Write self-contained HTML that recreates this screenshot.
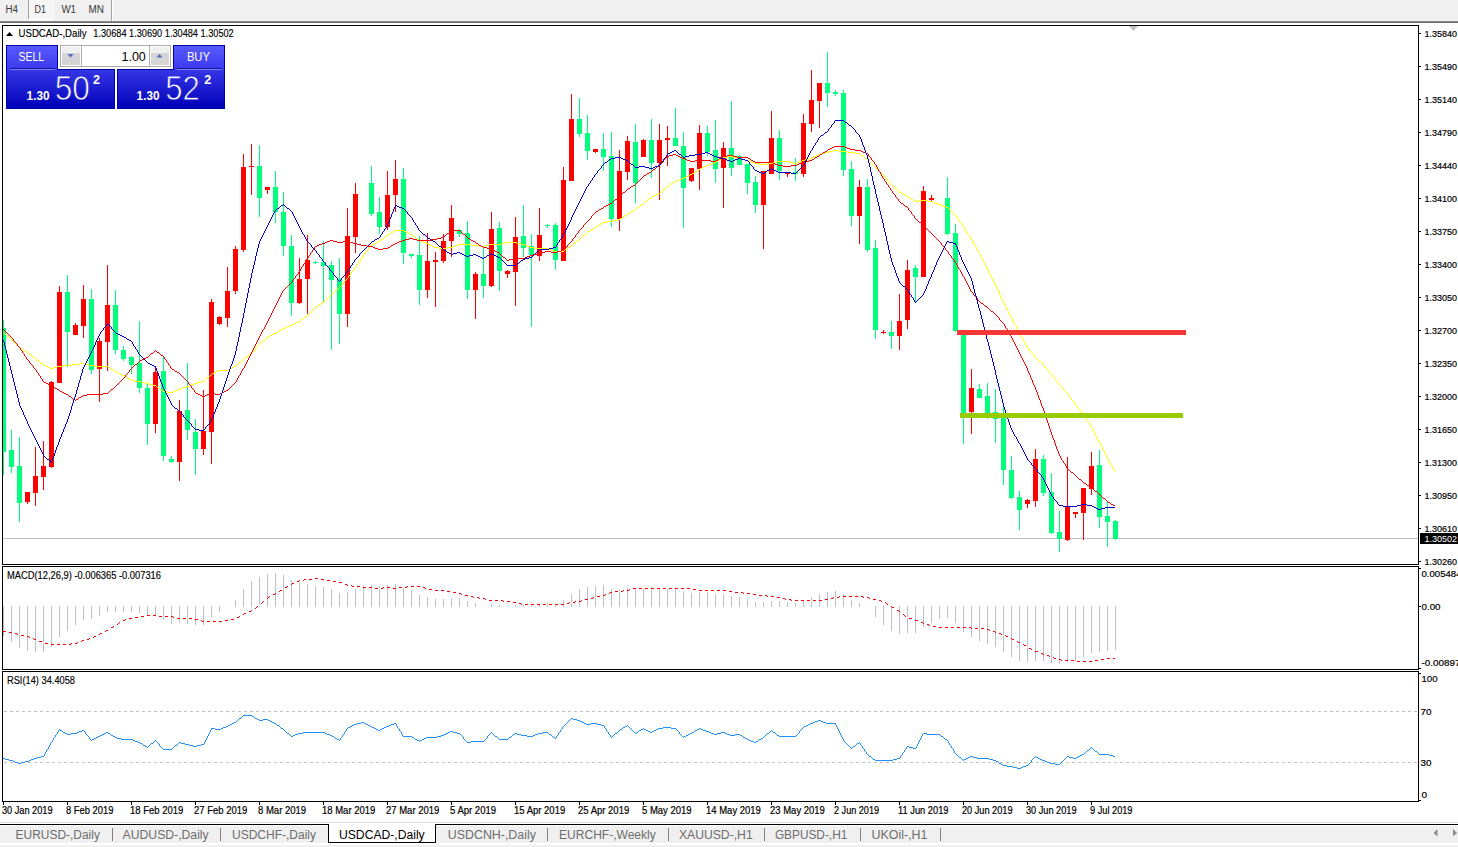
<!DOCTYPE html><html><head><meta charset="utf-8"><style>html,body{margin:0;padding:0;background:#fff;overflow:hidden}</style></head><body><svg width="1458" height="847" viewBox="0 0 1458 847" style="display:block" font-family='"Liberation Sans", sans-serif'>
<defs><pattern id="chk" width="2" height="2" patternUnits="userSpaceOnUse"><rect width="2" height="2" fill="#f0f0f0"/><rect width="1" height="1" fill="#fcfcfc"/><rect x="1" y="1" width="1" height="1" fill="#fcfcfc"/></pattern><clipPath id="mainclip"><rect x="3" y="26" width="1415" height="538"/></clipPath><clipPath id="macdclip"><rect x="3" y="567" width="1415" height="102"/></clipPath><clipPath id="rsiclip"><rect x="3" y="672" width="1415" height="129"/></clipPath></defs>
<rect x="0" y="0" width="1458" height="847" fill="#ffffff"/>
<g shape-rendering="crispEdges">
<rect x="0" y="0" width="1458" height="21" fill="#f0f0f0"/>
<rect x="29" y="0" width="24" height="19" fill="url(#chk)"/>
<rect x="53" y="0" width="1" height="20" fill="#ffffff"/>
<rect x="29" y="19" width="25" height="1" fill="#ffffff"/>
<rect x="28" y="0" width="1" height="19" fill="#a0a0a0"/>
<rect x="111" y="0" width="1" height="21" fill="#a0a0a0"/>
<rect x="112" y="0" width="1" height="21" fill="#ffffff"/>
<rect x="0" y="21" width="1458" height="1" fill="#8e8e8e"/>
<rect x="0" y="22" width="1458" height="1" fill="#6c6c6c"/>
</g>
<text x="5.5" y="13" font-size="10" fill="#383838" font-weight="normal" text-anchor="start" textLength="12.5" lengthAdjust="spacingAndGlyphs">H4</text>
<text x="34.5" y="13" font-size="10" fill="#383838" font-weight="normal" text-anchor="start" textLength="11.5" lengthAdjust="spacingAndGlyphs">D1</text>
<text x="61.5" y="13" font-size="10" fill="#383838" font-weight="normal" text-anchor="start" textLength="14.5" lengthAdjust="spacingAndGlyphs">W1</text>
<text x="88.5" y="13" font-size="10" fill="#383838" font-weight="normal" text-anchor="start" textLength="15.5" lengthAdjust="spacingAndGlyphs">MN</text>
<g shape-rendering="crispEdges" fill="none" stroke="#000" stroke-width="1">
<rect x="2.5" y="25.5" width="1416" height="539"/>
<rect x="2.5" y="566.5" width="1416" height="103"/>
<rect x="2.5" y="671.5" width="1416" height="130"/>
</g>
<g shape-rendering="crispEdges" fill="#000">
<rect x="1419" y="33" width="2" height="1"/>
<rect x="1419" y="66" width="2" height="1"/>
<rect x="1419" y="99" width="2" height="1"/>
<rect x="1419" y="132" width="2" height="1"/>
<rect x="1419" y="165" width="2" height="1"/>
<rect x="1419" y="198" width="2" height="1"/>
<rect x="1419" y="231" width="2" height="1"/>
<rect x="1419" y="264" width="2" height="1"/>
<rect x="1419" y="297" width="2" height="1"/>
<rect x="1419" y="330" width="2" height="1"/>
<rect x="1419" y="363" width="2" height="1"/>
<rect x="1419" y="396" width="2" height="1"/>
<rect x="1419" y="429" width="2" height="1"/>
<rect x="1419" y="462" width="2" height="1"/>
<rect x="1419" y="495" width="2" height="1"/>
<rect x="1419" y="528" width="2" height="1"/>
<rect x="1419" y="561" width="2" height="1"/>
</g>
<text x="1424.5" y="37" font-size="9.5" fill="#000" font-weight="normal" text-anchor="start" textLength="32.5" lengthAdjust="spacingAndGlyphs" stroke="#000" stroke-width="0.2">1.35840</text>
<text x="1424.5" y="70" font-size="9.5" fill="#000" font-weight="normal" text-anchor="start" textLength="32.5" lengthAdjust="spacingAndGlyphs" stroke="#000" stroke-width="0.2">1.35490</text>
<text x="1424.5" y="103" font-size="9.5" fill="#000" font-weight="normal" text-anchor="start" textLength="32.5" lengthAdjust="spacingAndGlyphs" stroke="#000" stroke-width="0.2">1.35140</text>
<text x="1424.5" y="136" font-size="9.5" fill="#000" font-weight="normal" text-anchor="start" textLength="32.5" lengthAdjust="spacingAndGlyphs" stroke="#000" stroke-width="0.2">1.34790</text>
<text x="1424.5" y="169" font-size="9.5" fill="#000" font-weight="normal" text-anchor="start" textLength="32.5" lengthAdjust="spacingAndGlyphs" stroke="#000" stroke-width="0.2">1.34440</text>
<text x="1424.5" y="202" font-size="9.5" fill="#000" font-weight="normal" text-anchor="start" textLength="32.5" lengthAdjust="spacingAndGlyphs" stroke="#000" stroke-width="0.2">1.34100</text>
<text x="1424.5" y="235" font-size="9.5" fill="#000" font-weight="normal" text-anchor="start" textLength="32.5" lengthAdjust="spacingAndGlyphs" stroke="#000" stroke-width="0.2">1.33750</text>
<text x="1424.5" y="268" font-size="9.5" fill="#000" font-weight="normal" text-anchor="start" textLength="32.5" lengthAdjust="spacingAndGlyphs" stroke="#000" stroke-width="0.2">1.33400</text>
<text x="1424.5" y="301" font-size="9.5" fill="#000" font-weight="normal" text-anchor="start" textLength="32.5" lengthAdjust="spacingAndGlyphs" stroke="#000" stroke-width="0.2">1.33050</text>
<text x="1424.5" y="334" font-size="9.5" fill="#000" font-weight="normal" text-anchor="start" textLength="32.5" lengthAdjust="spacingAndGlyphs" stroke="#000" stroke-width="0.2">1.32700</text>
<text x="1424.5" y="367" font-size="9.5" fill="#000" font-weight="normal" text-anchor="start" textLength="32.5" lengthAdjust="spacingAndGlyphs" stroke="#000" stroke-width="0.2">1.32350</text>
<text x="1424.5" y="400" font-size="9.5" fill="#000" font-weight="normal" text-anchor="start" textLength="32.5" lengthAdjust="spacingAndGlyphs" stroke="#000" stroke-width="0.2">1.32000</text>
<text x="1424.5" y="433" font-size="9.5" fill="#000" font-weight="normal" text-anchor="start" textLength="32.5" lengthAdjust="spacingAndGlyphs" stroke="#000" stroke-width="0.2">1.31650</text>
<text x="1424.5" y="466" font-size="9.5" fill="#000" font-weight="normal" text-anchor="start" textLength="32.5" lengthAdjust="spacingAndGlyphs" stroke="#000" stroke-width="0.2">1.31300</text>
<text x="1424.5" y="499" font-size="9.5" fill="#000" font-weight="normal" text-anchor="start" textLength="32.5" lengthAdjust="spacingAndGlyphs" stroke="#000" stroke-width="0.2">1.30950</text>
<text x="1424.5" y="532" font-size="9.5" fill="#000" font-weight="normal" text-anchor="start" textLength="32.5" lengthAdjust="spacingAndGlyphs" stroke="#000" stroke-width="0.2">1.30610</text>
<text x="1424.5" y="565" font-size="9.5" fill="#000" font-weight="normal" text-anchor="start" textLength="32.5" lengthAdjust="spacingAndGlyphs" stroke="#000" stroke-width="0.2">1.30260</text>
<g shape-rendering="crispEdges" fill="#000">
<rect x="3" y="802" width="1" height="3"/>
<rect x="67" y="802" width="1" height="3"/>
<rect x="131" y="802" width="1" height="3"/>
<rect x="195" y="802" width="1" height="3"/>
<rect x="259" y="802" width="1" height="3"/>
<rect x="323" y="802" width="1" height="3"/>
<rect x="387" y="802" width="1" height="3"/>
<rect x="451" y="802" width="1" height="3"/>
<rect x="515" y="802" width="1" height="3"/>
<rect x="579" y="802" width="1" height="3"/>
<rect x="643" y="802" width="1" height="3"/>
<rect x="707" y="802" width="1" height="3"/>
<rect x="771" y="802" width="1" height="3"/>
<rect x="835" y="802" width="1" height="3"/>
<rect x="899" y="802" width="1" height="3"/>
<rect x="963" y="802" width="1" height="3"/>
<rect x="1027" y="802" width="1" height="3"/>
<rect x="1091" y="802" width="1" height="3"/>
</g>
<g clip-path="url(#mainclip)">
<rect x="3" y="538" width="1415" height="1" fill="#c0c0c0" shape-rendering="crispEdges"/>
<g shape-rendering="crispEdges">
<rect x="3" y="320" width="1" height="155" fill="#00ff7f"/>
<rect x="1" y="328" width="5" height="124" fill="#00ff7f"/>
<rect x="11" y="430" width="1" height="43" fill="#00ff7f"/>
<rect x="9" y="450" width="5" height="17" fill="#00ff7f"/>
<rect x="19" y="437" width="1" height="85" fill="#00ff7f"/>
<rect x="17" y="466" width="5" height="37" fill="#00ff7f"/>
<rect x="27" y="492" width="1" height="12" fill="#ff0000"/>
<rect x="25" y="492" width="5" height="10" fill="#ff0000"/>
<rect x="35" y="447" width="1" height="59" fill="#ff0000"/>
<rect x="33" y="476" width="5" height="17" fill="#ff0000"/>
<rect x="43" y="441" width="1" height="49" fill="#ff0000"/>
<rect x="41" y="466" width="5" height="11" fill="#ff0000"/>
<rect x="51" y="381" width="1" height="87" fill="#ff0000"/>
<rect x="49" y="382" width="5" height="85" fill="#ff0000"/>
<rect x="59" y="286" width="1" height="97" fill="#ff0000"/>
<rect x="57" y="292" width="5" height="91" fill="#ff0000"/>
<rect x="67" y="275" width="1" height="92" fill="#00ff7f"/>
<rect x="65" y="292" width="5" height="40" fill="#00ff7f"/>
<rect x="75" y="323" width="1" height="12" fill="#ff0000"/>
<rect x="73" y="325" width="5" height="10" fill="#ff0000"/>
<rect x="83" y="285" width="1" height="53" fill="#ff0000"/>
<rect x="81" y="299" width="5" height="27" fill="#ff0000"/>
<rect x="91" y="289" width="1" height="85" fill="#00ff7f"/>
<rect x="89" y="299" width="5" height="71" fill="#00ff7f"/>
<rect x="99" y="338" width="1" height="64" fill="#ff0000"/>
<rect x="97" y="341" width="5" height="28" fill="#ff0000"/>
<rect x="107" y="265" width="1" height="106" fill="#ff0000"/>
<rect x="105" y="305" width="5" height="37" fill="#ff0000"/>
<rect x="115" y="290" width="1" height="64" fill="#00ff7f"/>
<rect x="113" y="305" width="5" height="45" fill="#00ff7f"/>
<rect x="123" y="346" width="1" height="15" fill="#00ff7f"/>
<rect x="121" y="350" width="5" height="9" fill="#00ff7f"/>
<rect x="131" y="356" width="1" height="18" fill="#00ff7f"/>
<rect x="129" y="357" width="5" height="8" fill="#00ff7f"/>
<rect x="139" y="321" width="1" height="72" fill="#00ff7f"/>
<rect x="137" y="363" width="5" height="25" fill="#00ff7f"/>
<rect x="147" y="383" width="1" height="62" fill="#00ff7f"/>
<rect x="145" y="388" width="5" height="36" fill="#00ff7f"/>
<rect x="155" y="366" width="1" height="67" fill="#ff0000"/>
<rect x="153" y="372" width="5" height="52" fill="#ff0000"/>
<rect x="163" y="357" width="1" height="104" fill="#00ff7f"/>
<rect x="161" y="371" width="5" height="85" fill="#00ff7f"/>
<rect x="171" y="456" width="1" height="7" fill="#00ff7f"/>
<rect x="169" y="459" width="5" height="3" fill="#00ff7f"/>
<rect x="179" y="400" width="1" height="81" fill="#ff0000"/>
<rect x="177" y="411" width="5" height="51" fill="#ff0000"/>
<rect x="187" y="363" width="1" height="77" fill="#00ff7f"/>
<rect x="185" y="410" width="5" height="20" fill="#00ff7f"/>
<rect x="195" y="419" width="1" height="56" fill="#00ff7f"/>
<rect x="193" y="432" width="5" height="17" fill="#00ff7f"/>
<rect x="203" y="390" width="1" height="65" fill="#ff0000"/>
<rect x="201" y="431" width="5" height="18" fill="#ff0000"/>
<rect x="211" y="299" width="1" height="165" fill="#ff0000"/>
<rect x="209" y="302" width="5" height="130" fill="#ff0000"/>
<rect x="219" y="316" width="1" height="9" fill="#ff0000"/>
<rect x="217" y="317" width="5" height="7" fill="#ff0000"/>
<rect x="227" y="267" width="1" height="60" fill="#ff0000"/>
<rect x="225" y="291" width="5" height="27" fill="#ff0000"/>
<rect x="235" y="246" width="1" height="48" fill="#ff0000"/>
<rect x="233" y="249" width="5" height="42" fill="#ff0000"/>
<rect x="243" y="154" width="1" height="98" fill="#ff0000"/>
<rect x="241" y="167" width="5" height="83" fill="#ff0000"/>
<rect x="251" y="144" width="1" height="51" fill="#ff0000"/>
<rect x="249" y="166" width="5" height="1" fill="#ff0000"/>
<rect x="259" y="145" width="1" height="72" fill="#00ff7f"/>
<rect x="257" y="166" width="5" height="32" fill="#00ff7f"/>
<rect x="267" y="187" width="1" height="7" fill="#ff0000"/>
<rect x="265" y="187" width="5" height="3" fill="#ff0000"/>
<rect x="275" y="171" width="1" height="52" fill="#00ff7f"/>
<rect x="273" y="187" width="5" height="25" fill="#00ff7f"/>
<rect x="283" y="192" width="1" height="64" fill="#00ff7f"/>
<rect x="281" y="212" width="5" height="34" fill="#00ff7f"/>
<rect x="291" y="235" width="1" height="81" fill="#00ff7f"/>
<rect x="289" y="246" width="5" height="57" fill="#00ff7f"/>
<rect x="299" y="258" width="1" height="46" fill="#ff0000"/>
<rect x="297" y="279" width="5" height="24" fill="#ff0000"/>
<rect x="307" y="235" width="1" height="79" fill="#ff0000"/>
<rect x="305" y="260" width="5" height="19" fill="#ff0000"/>
<rect x="315" y="261" width="1" height="3" fill="#00ff7f"/>
<rect x="313" y="262" width="5" height="1" fill="#00ff7f"/>
<rect x="323" y="241" width="1" height="61" fill="#00ff7f"/>
<rect x="321" y="262" width="5" height="4" fill="#00ff7f"/>
<rect x="331" y="261" width="1" height="89" fill="#00ff7f"/>
<rect x="329" y="265" width="5" height="15" fill="#00ff7f"/>
<rect x="339" y="258" width="1" height="86" fill="#00ff7f"/>
<rect x="337" y="279" width="5" height="35" fill="#00ff7f"/>
<rect x="347" y="208" width="1" height="119" fill="#ff0000"/>
<rect x="345" y="236" width="5" height="78" fill="#ff0000"/>
<rect x="355" y="183" width="1" height="70" fill="#ff0000"/>
<rect x="353" y="194" width="5" height="43" fill="#ff0000"/>
<rect x="371" y="166" width="1" height="50" fill="#00ff7f"/>
<rect x="369" y="183" width="5" height="31" fill="#00ff7f"/>
<rect x="379" y="197" width="1" height="37" fill="#00ff7f"/>
<rect x="377" y="212" width="5" height="15" fill="#00ff7f"/>
<rect x="387" y="171" width="1" height="59" fill="#ff0000"/>
<rect x="385" y="195" width="5" height="32" fill="#ff0000"/>
<rect x="395" y="160" width="1" height="52" fill="#ff0000"/>
<rect x="393" y="179" width="5" height="16" fill="#ff0000"/>
<rect x="403" y="168" width="1" height="96" fill="#00ff7f"/>
<rect x="401" y="179" width="5" height="74" fill="#00ff7f"/>
<rect x="411" y="254" width="1" height="4" fill="#00ff7f"/>
<rect x="409" y="254" width="5" height="2" fill="#00ff7f"/>
<rect x="419" y="236" width="1" height="69" fill="#00ff7f"/>
<rect x="417" y="255" width="5" height="35" fill="#00ff7f"/>
<rect x="427" y="233" width="1" height="65" fill="#ff0000"/>
<rect x="425" y="261" width="5" height="29" fill="#ff0000"/>
<rect x="435" y="252" width="1" height="55" fill="#ff0000"/>
<rect x="433" y="260" width="5" height="2" fill="#ff0000"/>
<rect x="443" y="234" width="1" height="29" fill="#ff0000"/>
<rect x="441" y="241" width="5" height="20" fill="#ff0000"/>
<rect x="451" y="205" width="1" height="52" fill="#ff0000"/>
<rect x="449" y="218" width="5" height="23" fill="#ff0000"/>
<rect x="459" y="229" width="1" height="8" fill="#00ff7f"/>
<rect x="457" y="230" width="5" height="4" fill="#00ff7f"/>
<rect x="467" y="221" width="1" height="78" fill="#00ff7f"/>
<rect x="465" y="233" width="5" height="57" fill="#00ff7f"/>
<rect x="475" y="272" width="1" height="47" fill="#ff0000"/>
<rect x="473" y="274" width="5" height="16" fill="#ff0000"/>
<rect x="483" y="247" width="1" height="51" fill="#00ff7f"/>
<rect x="481" y="274" width="5" height="12" fill="#00ff7f"/>
<rect x="491" y="212" width="1" height="75" fill="#ff0000"/>
<rect x="489" y="229" width="5" height="57" fill="#ff0000"/>
<rect x="499" y="222" width="1" height="69" fill="#00ff7f"/>
<rect x="497" y="228" width="5" height="43" fill="#00ff7f"/>
<rect x="507" y="270" width="1" height="8" fill="#ff0000"/>
<rect x="505" y="271" width="5" height="3" fill="#ff0000"/>
<rect x="515" y="217" width="1" height="89" fill="#ff0000"/>
<rect x="513" y="237" width="5" height="35" fill="#ff0000"/>
<rect x="523" y="205" width="1" height="52" fill="#00ff7f"/>
<rect x="521" y="236" width="5" height="12" fill="#00ff7f"/>
<rect x="531" y="234" width="1" height="93" fill="#00ff7f"/>
<rect x="529" y="246" width="5" height="9" fill="#00ff7f"/>
<rect x="539" y="208" width="1" height="53" fill="#ff0000"/>
<rect x="537" y="235" width="5" height="21" fill="#ff0000"/>
<rect x="547" y="224" width="1" height="4" fill="#00ff7f"/>
<rect x="545" y="225" width="5" height="1" fill="#00ff7f"/>
<rect x="555" y="223" width="1" height="47" fill="#00ff7f"/>
<rect x="553" y="225" width="5" height="35" fill="#00ff7f"/>
<rect x="563" y="167" width="1" height="94" fill="#ff0000"/>
<rect x="561" y="180" width="5" height="81" fill="#ff0000"/>
<rect x="571" y="94" width="1" height="87" fill="#ff0000"/>
<rect x="569" y="119" width="5" height="62" fill="#ff0000"/>
<rect x="579" y="98" width="1" height="39" fill="#00ff7f"/>
<rect x="577" y="119" width="5" height="15" fill="#00ff7f"/>
<rect x="587" y="115" width="1" height="45" fill="#00ff7f"/>
<rect x="585" y="133" width="5" height="18" fill="#00ff7f"/>
<rect x="595" y="149" width="1" height="4" fill="#ff0000"/>
<rect x="593" y="149" width="5" height="3" fill="#ff0000"/>
<rect x="603" y="133" width="1" height="38" fill="#00ff7f"/>
<rect x="601" y="149" width="5" height="8" fill="#00ff7f"/>
<rect x="611" y="132" width="1" height="95" fill="#00ff7f"/>
<rect x="609" y="156" width="5" height="63" fill="#00ff7f"/>
<rect x="619" y="150" width="1" height="81" fill="#ff0000"/>
<rect x="617" y="171" width="5" height="48" fill="#ff0000"/>
<rect x="627" y="136" width="1" height="44" fill="#ff0000"/>
<rect x="625" y="141" width="5" height="31" fill="#ff0000"/>
<rect x="635" y="124" width="1" height="79" fill="#00ff7f"/>
<rect x="633" y="142" width="5" height="41" fill="#00ff7f"/>
<rect x="643" y="139" width="1" height="18" fill="#ff0000"/>
<rect x="641" y="140" width="5" height="17" fill="#ff0000"/>
<rect x="651" y="119" width="1" height="59" fill="#00ff7f"/>
<rect x="649" y="140" width="5" height="23" fill="#00ff7f"/>
<rect x="659" y="124" width="1" height="76" fill="#ff0000"/>
<rect x="657" y="140" width="5" height="23" fill="#ff0000"/>
<rect x="667" y="126" width="1" height="40" fill="#ff0000"/>
<rect x="665" y="138" width="5" height="2" fill="#ff0000"/>
<rect x="675" y="108" width="1" height="38" fill="#00ff7f"/>
<rect x="673" y="138" width="5" height="8" fill="#00ff7f"/>
<rect x="683" y="132" width="1" height="96" fill="#00ff7f"/>
<rect x="681" y="146" width="5" height="42" fill="#00ff7f"/>
<rect x="691" y="168" width="1" height="14" fill="#ff0000"/>
<rect x="689" y="168" width="5" height="13" fill="#ff0000"/>
<rect x="699" y="125" width="1" height="65" fill="#ff0000"/>
<rect x="697" y="133" width="5" height="36" fill="#ff0000"/>
<rect x="707" y="126" width="1" height="30" fill="#00ff7f"/>
<rect x="705" y="133" width="5" height="19" fill="#00ff7f"/>
<rect x="715" y="120" width="1" height="63" fill="#00ff7f"/>
<rect x="713" y="150" width="5" height="19" fill="#00ff7f"/>
<rect x="723" y="142" width="1" height="66" fill="#ff0000"/>
<rect x="721" y="148" width="5" height="20" fill="#ff0000"/>
<rect x="731" y="101" width="1" height="75" fill="#00ff7f"/>
<rect x="729" y="148" width="5" height="20" fill="#00ff7f"/>
<rect x="739" y="155" width="1" height="10" fill="#00ff7f"/>
<rect x="737" y="156" width="5" height="9" fill="#00ff7f"/>
<rect x="747" y="164" width="1" height="30" fill="#00ff7f"/>
<rect x="745" y="164" width="5" height="19" fill="#00ff7f"/>
<rect x="755" y="176" width="1" height="37" fill="#00ff7f"/>
<rect x="753" y="182" width="5" height="23" fill="#00ff7f"/>
<rect x="763" y="171" width="1" height="78" fill="#ff0000"/>
<rect x="761" y="171" width="5" height="34" fill="#ff0000"/>
<rect x="771" y="111" width="1" height="63" fill="#ff0000"/>
<rect x="769" y="138" width="5" height="36" fill="#ff0000"/>
<rect x="779" y="130" width="1" height="50" fill="#00ff7f"/>
<rect x="777" y="138" width="5" height="33" fill="#00ff7f"/>
<rect x="787" y="172" width="1" height="5" fill="#ff0000"/>
<rect x="785" y="172" width="5" height="2" fill="#ff0000"/>
<rect x="795" y="158" width="1" height="23" fill="#00ff7f"/>
<rect x="793" y="172" width="5" height="2" fill="#00ff7f"/>
<rect x="803" y="114" width="1" height="63" fill="#ff0000"/>
<rect x="801" y="123" width="5" height="51" fill="#ff0000"/>
<rect x="811" y="70" width="1" height="62" fill="#ff0000"/>
<rect x="809" y="100" width="5" height="24" fill="#ff0000"/>
<rect x="819" y="83" width="1" height="45" fill="#ff0000"/>
<rect x="817" y="83" width="5" height="18" fill="#ff0000"/>
<rect x="827" y="52" width="1" height="55" fill="#00ff7f"/>
<rect x="825" y="83" width="5" height="10" fill="#00ff7f"/>
<rect x="835" y="90" width="1" height="6" fill="#00ff7f"/>
<rect x="833" y="92" width="5" height="2" fill="#00ff7f"/>
<rect x="843" y="90" width="1" height="86" fill="#00ff7f"/>
<rect x="841" y="93" width="5" height="77" fill="#00ff7f"/>
<rect x="851" y="161" width="1" height="65" fill="#00ff7f"/>
<rect x="849" y="169" width="5" height="47" fill="#00ff7f"/>
<rect x="859" y="180" width="1" height="64" fill="#ff0000"/>
<rect x="857" y="187" width="5" height="29" fill="#ff0000"/>
<rect x="867" y="179" width="1" height="73" fill="#00ff7f"/>
<rect x="865" y="187" width="5" height="63" fill="#00ff7f"/>
<rect x="875" y="240" width="1" height="99" fill="#00ff7f"/>
<rect x="873" y="248" width="5" height="82" fill="#00ff7f"/>
<rect x="883" y="330" width="1" height="4" fill="#ff0000"/>
<rect x="881" y="332" width="5" height="1" fill="#ff0000"/>
<rect x="891" y="321" width="1" height="28" fill="#00ff7f"/>
<rect x="889" y="332" width="5" height="4" fill="#00ff7f"/>
<rect x="899" y="294" width="1" height="56" fill="#ff0000"/>
<rect x="897" y="321" width="5" height="15" fill="#ff0000"/>
<rect x="907" y="260" width="1" height="69" fill="#ff0000"/>
<rect x="905" y="270" width="5" height="50" fill="#ff0000"/>
<rect x="915" y="265" width="1" height="37" fill="#00ff7f"/>
<rect x="913" y="268" width="5" height="9" fill="#00ff7f"/>
<rect x="923" y="186" width="1" height="91" fill="#ff0000"/>
<rect x="921" y="191" width="5" height="86" fill="#ff0000"/>
<rect x="931" y="195" width="1" height="6" fill="#ff0000"/>
<rect x="929" y="198" width="5" height="2" fill="#ff0000"/>
<rect x="947" y="177" width="1" height="58" fill="#00ff7f"/>
<rect x="945" y="198" width="5" height="36" fill="#00ff7f"/>
<rect x="955" y="224" width="1" height="108" fill="#00ff7f"/>
<rect x="953" y="233" width="5" height="98" fill="#00ff7f"/>
<rect x="963" y="331" width="1" height="113" fill="#00ff7f"/>
<rect x="961" y="331" width="5" height="82" fill="#00ff7f"/>
<rect x="971" y="369" width="1" height="65" fill="#ff0000"/>
<rect x="969" y="388" width="5" height="24" fill="#ff0000"/>
<rect x="979" y="384" width="1" height="14" fill="#00ff7f"/>
<rect x="977" y="389" width="5" height="9" fill="#00ff7f"/>
<rect x="987" y="383" width="1" height="36" fill="#00ff7f"/>
<rect x="985" y="396" width="5" height="22" fill="#00ff7f"/>
<rect x="995" y="389" width="1" height="54" fill="#00ff7f"/>
<rect x="993" y="412" width="5" height="7" fill="#00ff7f"/>
<rect x="1003" y="406" width="1" height="79" fill="#00ff7f"/>
<rect x="1001" y="417" width="5" height="53" fill="#00ff7f"/>
<rect x="1011" y="456" width="1" height="43" fill="#00ff7f"/>
<rect x="1009" y="470" width="5" height="28" fill="#00ff7f"/>
<rect x="1019" y="491" width="1" height="39" fill="#00ff7f"/>
<rect x="1017" y="497" width="5" height="13" fill="#00ff7f"/>
<rect x="1027" y="499" width="1" height="9" fill="#ff0000"/>
<rect x="1025" y="500" width="5" height="4" fill="#ff0000"/>
<rect x="1035" y="449" width="1" height="58" fill="#ff0000"/>
<rect x="1033" y="459" width="5" height="42" fill="#ff0000"/>
<rect x="1043" y="455" width="1" height="41" fill="#00ff7f"/>
<rect x="1041" y="459" width="5" height="34" fill="#00ff7f"/>
<rect x="1051" y="473" width="1" height="61" fill="#00ff7f"/>
<rect x="1049" y="492" width="5" height="41" fill="#00ff7f"/>
<rect x="1059" y="511" width="1" height="41" fill="#00ff7f"/>
<rect x="1057" y="532" width="5" height="7" fill="#00ff7f"/>
<rect x="1067" y="457" width="1" height="84" fill="#ff0000"/>
<rect x="1065" y="507" width="5" height="33" fill="#ff0000"/>
<rect x="1075" y="512" width="1" height="6" fill="#ff0000"/>
<rect x="1073" y="512" width="5" height="2" fill="#ff0000"/>
<rect x="1083" y="488" width="1" height="52" fill="#ff0000"/>
<rect x="1081" y="488" width="5" height="25" fill="#ff0000"/>
<rect x="1091" y="452" width="1" height="43" fill="#ff0000"/>
<rect x="1089" y="466" width="5" height="23" fill="#ff0000"/>
<rect x="1099" y="450" width="1" height="78" fill="#00ff7f"/>
<rect x="1097" y="465" width="5" height="52" fill="#00ff7f"/>
<rect x="1107" y="501" width="1" height="46" fill="#00ff7f"/>
<rect x="1105" y="516" width="5" height="6" fill="#00ff7f"/>
<rect x="1115" y="520" width="1" height="20" fill="#00ff7f"/>
<rect x="1113" y="521" width="5" height="18" fill="#00ff7f"/>
</g>
<path d="M833 150h6v1h-6zM829 151h4v1h-4zM839 151h8v1h-8zM825 152h4v1h-4zM847 152h8v1h-8zM821 153h4v1h-4zM855 153h5v1h-5zM818 154h3v1h-3zM860 154h1v1h-1zM816 155h2v1h-2zM861 155h2v1h-2zM727 156h6v1h-6zM814 156h2v1h-2zM863 156h1v1h-1zM723 157h4v1h-4zM733 157h4v1h-4zM812 157h2v1h-2zM864 157h1v1h-1zM721 158h2v1h-2zM737 158h4v1h-4zM809 158h3v1h-3zM865 158h2v1h-2zM719 159h2v1h-2zM741 159h4v1h-4zM805 159h4v1h-4zM867 159h1v1h-1zM718 160h1v1h-1zM745 160h4v1h-4zM802 160h3v1h-3zM868 160h1v1h-1zM716 161h2v1h-2zM749 161h2v1h-2zM777 161h12v1h-12zM799 161h3v1h-3zM869 161h1v1h-1zM714 162h2v1h-2zM751 162h3v1h-3zM773 162h4v1h-4zM789 162h4v1h-4zM797 162h2v1h-2zM870 162h1v1h-1zM711 163h3v1h-3zM754 163h5v1h-5zM767 163h6v1h-6zM793 163h4v1h-4zM871 163h1v1h-1zM709 164h2v1h-2zM759 164h8v1h-8zM872 164h1v1h-1zM706 165h3v1h-3zM873 165h1v1h-1zM704 166h2v1h-2zM874 166h1v1h-1zM702 167h2v1h-2zM875 167h1v1h-1zM700 168h2v1h-2zM876 168h1v1h-1zM699 169h1v1h-1zM877 169h1v1h-1zM697 170h2v1h-2zM878 170h1v1h-1zM695 171h2v1h-2zM879 171h1v1h-1zM694 172h1v1h-1zM880 172h1v1h-1zM692 173h2v1h-2zM881 173h1v1h-1zM690 174h2v1h-2zM882 174h1v1h-1zM688 175h2v1h-2zM883 175h1v1h-1zM686 176h2v1h-2zM884 176h1v1h-1zM684 177h2v1h-2zM885 177h1v1h-1zM682 178h2v1h-2zM886 178h1v1h-1zM679 179h3v1h-3zM887 179h1v1h-1zM677 180h2v1h-2zM887 180h1v1h-1zM675 181h2v1h-2zM888 181h1v1h-1zM673 182h2v1h-2zM889 182h1v1h-1zM671 183h2v1h-2zM890 183h1v1h-1zM670 184h1v1h-1zM891 184h1v1h-1zM668 185h2v1h-2zM892 185h1v1h-1zM667 186h1v1h-1zM893 186h1v1h-1zM666 187h1v1h-1zM894 187h1v1h-1zM665 188h1v1h-1zM895 188h2v1h-2zM663 189h2v1h-2zM897 189h1v1h-1zM662 190h1v1h-1zM898 190h1v1h-1zM661 191h1v1h-1zM899 191h1v1h-1zM660 192h1v1h-1zM900 192h2v1h-2zM658 193h2v1h-2zM902 193h1v1h-1zM656 194h2v1h-2zM903 194h2v1h-2zM654 195h2v1h-2zM905 195h2v1h-2zM652 196h2v1h-2zM907 196h1v1h-1zM651 197h1v1h-1zM908 197h2v1h-2zM649 198h2v1h-2zM910 198h1v1h-1zM648 199h1v1h-1zM911 199h2v1h-2zM647 200h1v1h-1zM913 200h2v1h-2zM919 200h8v1h-8zM645 201h2v1h-2zM915 201h4v1h-4zM927 201h6v1h-6zM644 202h1v1h-1zM933 202h2v1h-2zM643 203h1v1h-1zM935 203h3v1h-3zM641 204h2v1h-2zM938 204h3v1h-3zM640 205h1v1h-1zM941 205h2v1h-2zM639 206h1v1h-1zM943 206h3v1h-3zM637 207h2v1h-2zM946 207h2v1h-2zM636 208h1v1h-1zM948 208h1v1h-1zM635 209h1v1h-1zM949 209h1v1h-1zM633 210h2v1h-2zM950 210h1v1h-1zM631 211h2v1h-2zM951 211h1v1h-1zM630 212h1v1h-1zM952 212h1v1h-1zM628 213h2v1h-2zM953 213h1v1h-1zM627 214h1v1h-1zM954 214h1v1h-1zM625 215h2v1h-2zM955 215h1v1h-1zM623 216h2v1h-2zM956 216h1v1h-1zM622 217h1v1h-1zM956 217h1v1h-1zM620 218h2v1h-2zM957 218h1v1h-1zM617 219h3v1h-3zM958 219h1v1h-1zM613 220h4v1h-4zM959 220h1v1h-1zM607 221h6v1h-6zM959 221h1v1h-1zM603 222h4v1h-4zM960 222h1v1h-1zM601 223h2v1h-2zM961 223h1v1h-1zM599 224h2v1h-2zM962 224h1v1h-1zM598 225h1v1h-1zM962 225h1v1h-1zM596 226h2v1h-2zM963 226h1v1h-1zM595 227h1v1h-1zM964 227h1v1h-1zM593 228h2v1h-2zM964 228h1v1h-1zM591 229h2v1h-2zM965 229h1v1h-1zM395 230h9v1h-9zM590 230h1v1h-1zM965 230h1v1h-1zM393 231h2v1h-2zM404 231h2v1h-2zM588 231h2v1h-2zM966 231h1v1h-1zM391 232h2v1h-2zM406 232h2v1h-2zM587 232h1v1h-1zM967 232h1v1h-1zM390 233h1v1h-1zM408 233h2v1h-2zM586 233h1v1h-1zM967 233h1v1h-1zM388 234h2v1h-2zM410 234h2v1h-2zM585 234h1v1h-1zM968 234h1v1h-1zM387 235h1v1h-1zM412 235h1v1h-1zM583 235h2v1h-2zM969 235h1v1h-1zM385 236h2v1h-2zM413 236h2v1h-2zM582 236h1v1h-1zM969 236h1v1h-1zM384 237h1v1h-1zM415 237h1v1h-1zM581 237h1v1h-1zM970 237h1v1h-1zM383 238h1v1h-1zM416 238h1v1h-1zM580 238h1v1h-1zM970 238h1v1h-1zM381 239h2v1h-2zM417 239h2v1h-2zM579 239h1v1h-1zM971 239h1v1h-1zM380 240h1v1h-1zM419 240h2v1h-2zM577 240h2v1h-2zM972 240h1v1h-1zM378 241h2v1h-2zM421 241h2v1h-2zM576 241h1v1h-1zM972 241h1v1h-1zM376 242h2v1h-2zM423 242h3v1h-3zM505 242h12v1h-12zM575 242h1v1h-1zM973 242h1v1h-1zM374 243h2v1h-2zM426 243h2v1h-2zM501 243h4v1h-4zM517 243h4v1h-4zM573 243h2v1h-2zM973 243h1v1h-1zM372 244h2v1h-2zM428 244h2v1h-2zM458 244h13v1h-13zM489 244h12v1h-12zM521 244h4v1h-4zM572 244h1v1h-1zM974 244h1v1h-1zM371 245h1v1h-1zM430 245h2v1h-2zM455 245h3v1h-3zM471 245h8v1h-8zM485 245h4v1h-4zM525 245h2v1h-2zM571 245h1v1h-1zM974 245h1v1h-1zM370 246h1v1h-1zM432 246h2v1h-2zM453 246h2v1h-2zM479 246h6v1h-6zM527 246h3v1h-3zM569 246h2v1h-2zM975 246h1v1h-1zM369 247h1v1h-1zM434 247h5v1h-5zM447 247h6v1h-6zM530 247h5v1h-5zM568 247h1v1h-1zM976 247h1v1h-1zM369 248h1v1h-1zM439 248h8v1h-8zM535 248h14v1h-14zM567 248h1v1h-1zM976 248h1v1h-1zM368 249h1v1h-1zM549 249h2v1h-2zM565 249h2v1h-2zM977 249h1v1h-1zM367 250h1v1h-1zM551 250h3v1h-3zM564 250h1v1h-1zM977 250h1v1h-1zM366 251h1v1h-1zM554 251h10v1h-10zM978 251h1v1h-1zM365 252h1v1h-1zM978 252h1v1h-1zM365 253h1v1h-1zM979 253h1v1h-1zM364 254h1v1h-1zM980 254h1v1h-1zM363 255h1v1h-1zM980 255h1v1h-1zM362 256h1v1h-1zM981 256h1v1h-1zM362 257h1v1h-1zM981 257h1v1h-1zM361 258h1v1h-1zM982 258h1v1h-1zM360 259h1v1h-1zM982 259h1v1h-1zM360 260h1v1h-1zM983 260h1v1h-1zM359 261h1v1h-1zM983 261h1v1h-1zM358 262h1v1h-1zM984 262h1v1h-1zM358 263h1v1h-1zM984 263h1v1h-1zM357 264h1v1h-1zM985 264h1v1h-1zM356 265h1v1h-1zM985 265h1v1h-1zM356 266h1v1h-1zM986 266h1v1h-1zM355 267h1v1h-1zM986 267h1v1h-1zM354 268h1v1h-1zM987 268h1v1h-1zM354 269h1v1h-1zM987 269h1v1h-1zM353 270h1v1h-1zM988 270h1v1h-1zM352 271h1v1h-1zM988 271h1v1h-1zM351 272h1v1h-1zM989 272h1v1h-1zM351 273h1v1h-1zM989 273h1v1h-1zM350 274h1v1h-1zM990 274h1v1h-1zM349 275h1v1h-1zM990 275h1v1h-1zM348 276h1v1h-1zM991 276h1v1h-1zM348 277h1v1h-1zM991 277h1v1h-1zM347 278h1v1h-1zM992 278h1v1h-1zM346 279h1v1h-1zM992 279h1v1h-1zM345 280h1v1h-1zM993 280h1v1h-1zM344 281h1v1h-1zM993 281h1v1h-1zM343 282h1v1h-1zM994 282h1v1h-1zM343 283h1v1h-1zM994 283h1v1h-1zM342 284h1v1h-1zM995 284h1v1h-1zM341 285h1v1h-1zM995 285h1v1h-1zM340 286h1v1h-1zM996 286h1v1h-1zM339 287h1v1h-1zM996 287h1v1h-1zM338 288h1v1h-1zM997 288h1v1h-1zM337 289h1v1h-1zM997 289h1v1h-1zM335 290h2v1h-2zM998 290h1v1h-1zM334 291h1v1h-1zM998 291h1v1h-1zM333 292h1v1h-1zM999 292h1v1h-1zM332 293h1v1h-1zM999 293h1v1h-1zM331 294h1v1h-1zM999 294h1v1h-1zM330 295h1v1h-1zM1000 295h1v1h-1zM329 296h1v1h-1zM1000 296h1v1h-1zM328 297h1v1h-1zM1001 297h1v1h-1zM327 298h1v1h-1zM1001 298h1v1h-1zM326 299h1v1h-1zM1002 299h1v1h-1zM325 300h1v1h-1zM1002 300h1v1h-1zM324 301h1v1h-1zM1003 301h1v1h-1zM323 302h1v1h-1zM1003 302h1v1h-1zM321 303h2v1h-2zM1004 303h1v1h-1zM319 304h2v1h-2zM1004 304h1v1h-1zM318 305h1v1h-1zM1005 305h1v1h-1zM316 306h2v1h-2zM1005 306h1v1h-1zM315 307h1v1h-1zM1006 307h1v1h-1zM314 308h1v1h-1zM1006 308h1v1h-1zM313 309h1v1h-1zM1007 309h1v1h-1zM312 310h1v1h-1zM1007 310h1v1h-1zM311 311h1v1h-1zM1008 311h1v1h-1zM310 312h1v1h-1zM1008 312h1v1h-1zM309 313h1v1h-1zM1009 313h1v1h-1zM308 314h1v1h-1zM1009 314h1v1h-1zM307 315h1v1h-1zM1010 315h1v1h-1zM305 316h2v1h-2zM1010 316h1v1h-1zM304 317h1v1h-1zM1011 317h1v1h-1zM303 318h1v1h-1zM1011 318h1v1h-1zM301 319h2v1h-2zM1012 319h1v1h-1zM300 320h1v1h-1zM1012 320h1v1h-1zM298 321h2v1h-2zM1013 321h1v1h-1zM296 322h2v1h-2zM1013 322h1v1h-1zM294 323h2v1h-2zM1014 323h1v1h-1zM292 324h2v1h-2zM1014 324h1v1h-1zM290 325h2v1h-2zM1015 325h1v1h-1zM287 326h3v1h-3zM1016 326h1v1h-1zM285 327h2v1h-2zM1016 327h1v1h-1zM283 328h2v1h-2zM1017 328h1v1h-1zM281 329h2v1h-2zM1017 329h1v1h-1zM279 330h2v1h-2zM1018 330h1v1h-1zM278 331h1v1h-1zM1018 331h1v1h-1zM3 332h1v1h-1zM276 332h2v1h-2zM1019 332h1v1h-1zM4 333h1v1h-1zM274 333h2v1h-2zM1020 333h1v1h-1zM5 334h1v1h-1zM272 334h2v1h-2zM1020 334h1v1h-1zM6 335h1v1h-1zM270 335h2v1h-2zM1021 335h1v1h-1zM7 336h2v1h-2zM268 336h2v1h-2zM1021 336h1v1h-1zM9 337h1v1h-1zM267 337h1v1h-1zM1022 337h1v1h-1zM10 338h1v1h-1zM266 338h1v1h-1zM1022 338h1v1h-1zM11 339h1v1h-1zM265 339h1v1h-1zM1023 339h1v1h-1zM12 340h1v1h-1zM263 340h2v1h-2zM1023 340h1v1h-1zM13 341h1v1h-1zM262 341h1v1h-1zM1024 341h1v1h-1zM14 342h1v1h-1zM261 342h1v1h-1zM1024 342h1v1h-1zM15 343h1v1h-1zM260 343h1v1h-1zM1025 343h1v1h-1zM16 344h1v1h-1zM259 344h1v1h-1zM1025 344h1v1h-1zM17 345h1v1h-1zM258 345h1v1h-1zM1026 345h1v1h-1zM18 346h1v1h-1zM257 346h1v1h-1zM1026 346h1v1h-1zM19 347h1v1h-1zM256 347h1v1h-1zM1027 347h1v1h-1zM20 348h2v1h-2zM255 348h1v1h-1zM1028 348h1v1h-1zM22 349h1v1h-1zM255 349h1v1h-1zM1029 349h1v1h-1zM23 350h2v1h-2zM254 350h1v1h-1zM1029 350h1v1h-1zM25 351h2v1h-2zM253 351h1v1h-1zM1030 351h1v1h-1zM27 352h1v1h-1zM252 352h1v1h-1zM1031 352h1v1h-1zM28 353h1v1h-1zM251 353h1v1h-1zM1032 353h1v1h-1zM29 354h2v1h-2zM249 354h2v1h-2zM1033 354h1v1h-1zM31 355h1v1h-1zM248 355h1v1h-1zM1033 355h1v1h-1zM32 356h1v1h-1zM247 356h1v1h-1zM1034 356h1v1h-1zM33 357h2v1h-2zM245 357h2v1h-2zM1035 357h1v1h-1zM35 358h1v1h-1zM244 358h1v1h-1zM1036 358h1v1h-1zM36 359h1v1h-1zM243 359h1v1h-1zM1037 359h1v1h-1zM37 360h2v1h-2zM242 360h1v1h-1zM1038 360h1v1h-1zM39 361h1v1h-1zM241 361h1v1h-1zM1039 361h2v1h-2zM40 362h1v1h-1zM239 362h2v1h-2zM1041 362h1v1h-1zM41 363h2v1h-2zM79 363h6v1h-6zM238 363h1v1h-1zM1042 363h1v1h-1zM43 364h1v1h-1zM71 364h8v1h-8zM85 364h4v1h-4zM237 364h1v1h-1zM1043 364h1v1h-1zM44 365h2v1h-2zM63 365h8v1h-8zM89 365h6v1h-6zM236 365h1v1h-1zM1044 365h1v1h-1zM46 366h2v1h-2zM57 366h6v1h-6zM95 366h13v1h-13zM234 366h2v1h-2zM1045 366h1v1h-1zM48 367h2v1h-2zM53 367h4v1h-4zM108 367h2v1h-2zM232 367h2v1h-2zM1045 367h1v1h-1zM50 368h3v1h-3zM110 368h1v1h-1zM230 368h2v1h-2zM1046 368h1v1h-1zM111 369h2v1h-2zM228 369h2v1h-2zM1047 369h1v1h-1zM113 370h2v1h-2zM218 370h10v1h-10zM1048 370h1v1h-1zM115 371h1v1h-1zM216 371h2v1h-2zM1049 371h1v1h-1zM116 372h2v1h-2zM214 372h2v1h-2zM1049 372h1v1h-1zM118 373h2v1h-2zM212 373h2v1h-2zM1050 373h1v1h-1zM120 374h2v1h-2zM211 374h1v1h-1zM1051 374h1v1h-1zM122 375h2v1h-2zM210 375h1v1h-1zM1052 375h1v1h-1zM124 376h2v1h-2zM209 376h1v1h-1zM1053 376h1v1h-1zM126 377h1v1h-1zM207 377h2v1h-2zM1053 377h1v1h-1zM127 378h2v1h-2zM206 378h1v1h-1zM1054 378h1v1h-1zM129 379h2v1h-2zM205 379h1v1h-1zM1055 379h1v1h-1zM131 380h4v1h-4zM204 380h1v1h-1zM1056 380h1v1h-1zM135 381h6v1h-6zM201 381h3v1h-3zM1057 381h1v1h-1zM141 382h4v1h-4zM197 382h4v1h-4zM1057 382h1v1h-1zM145 383h4v1h-4zM194 383h3v1h-3zM1058 383h1v1h-1zM149 384h4v1h-4zM191 384h3v1h-3zM1059 384h1v1h-1zM153 385h3v1h-3zM189 385h2v1h-2zM1060 385h1v1h-1zM156 386h1v1h-1zM186 386h3v1h-3zM1061 386h1v1h-1zM157 387h2v1h-2zM183 387h3v1h-3zM1062 387h1v1h-1zM159 388h1v1h-1zM181 388h2v1h-2zM1063 388h1v1h-1zM160 389h1v1h-1zM178 389h3v1h-3zM1063 389h1v1h-1zM161 390h2v1h-2zM175 390h3v1h-3zM1064 390h1v1h-1zM163 391h4v1h-4zM173 391h2v1h-2zM1065 391h1v1h-1zM167 392h6v1h-6zM1066 392h1v1h-1zM1067 393h1v1h-1zM1068 394h1v1h-1zM1068 395h1v1h-1zM1069 396h1v1h-1zM1070 397h1v1h-1zM1071 398h1v1h-1zM1071 399h1v1h-1zM1072 400h1v1h-1zM1073 401h1v1h-1zM1074 402h1v1h-1zM1074 403h1v1h-1zM1075 404h1v1h-1zM1076 405h1v1h-1zM1077 406h1v1h-1zM1077 407h1v1h-1zM1078 408h1v1h-1zM1079 409h1v1h-1zM1080 410h1v1h-1zM1081 411h1v1h-1zM1081 412h1v1h-1zM1082 413h1v1h-1zM1083 414h1v1h-1zM1084 415h1v1h-1zM1084 416h1v1h-1zM1085 417h1v1h-1zM1085 418h1v1h-1zM1086 419h1v1h-1zM1087 420h1v1h-1zM1087 421h1v1h-1zM1088 422h1v1h-1zM1089 423h1v1h-1zM1089 424h1v1h-1zM1090 425h1v1h-1zM1090 426h1v1h-1zM1091 427h1v1h-1zM1092 428h1v1h-1zM1092 429h1v1h-1zM1093 430h1v1h-1zM1093 431h1v1h-1zM1094 432h1v1h-1zM1094 433h1v1h-1zM1095 434h1v1h-1zM1095 435h1v1h-1zM1096 436h1v1h-1zM1096 437h1v1h-1zM1097 438h1v1h-1zM1097 439h1v1h-1zM1098 440h1v1h-1zM1098 441h1v1h-1zM1099 442h1v1h-1zM1100 443h1v1h-1zM1100 444h1v1h-1zM1101 445h1v1h-1zM1101 446h1v1h-1zM1102 447h1v1h-1zM1102 448h1v1h-1zM1103 449h1v1h-1zM1103 450h1v1h-1zM1104 451h1v1h-1zM1104 452h1v1h-1zM1105 453h1v1h-1zM1105 454h1v1h-1zM1106 455h1v1h-1zM1106 456h1v1h-1zM1107 457h1v1h-1zM1107 458h1v1h-1zM1108 459h1v1h-1zM1108 460h1v1h-1zM1109 461h1v1h-1zM1109 462h1v1h-1zM1110 463h1v1h-1zM1110 464h1v1h-1zM1111 465h1v1h-1zM1112 466h1v1h-1zM1112 467h1v1h-1zM1113 468h1v1h-1zM1113 469h1v1h-1zM1114 470h1v1h-1zM1114 471h1v1h-1z" fill="#ffff00" shape-rendering="crispEdges"/>
<path d="M834 146h11v1h-11zM832 147h2v1h-2zM845 147h2v1h-2zM830 148h2v1h-2zM847 148h3v1h-3zM828 149h2v1h-2zM850 149h5v1h-5zM827 150h1v1h-1zM855 150h6v1h-6zM825 151h2v1h-2zM861 151h2v1h-2zM823 152h2v1h-2zM863 152h3v1h-3zM822 153h1v1h-1zM866 153h2v1h-2zM673 154h3v1h-3zM820 154h2v1h-2zM868 154h1v1h-1zM669 155h4v1h-4zM676 155h2v1h-2zM727 155h6v1h-6zM819 155h1v1h-1zM868 155h1v1h-1zM667 156h2v1h-2zM678 156h2v1h-2zM723 156h4v1h-4zM733 156h4v1h-4zM817 156h2v1h-2zM869 156h1v1h-1zM666 157h1v1h-1zM680 157h2v1h-2zM721 157h2v1h-2zM737 157h11v1h-11zM815 157h2v1h-2zM870 157h1v1h-1zM665 158h1v1h-1zM682 158h3v1h-3zM719 158h2v1h-2zM748 158h2v1h-2zM814 158h1v1h-1zM871 158h1v1h-1zM664 159h1v1h-1zM685 159h2v1h-2zM718 159h1v1h-1zM750 159h1v1h-1zM812 159h2v1h-2zM871 159h1v1h-1zM663 160h1v1h-1zM687 160h3v1h-3zM695 160h16v1h-16zM716 160h2v1h-2zM751 160h2v1h-2zM809 160h3v1h-3zM872 160h1v1h-1zM663 161h1v1h-1zM690 161h5v1h-5zM711 161h5v1h-5zM753 161h2v1h-2zM805 161h4v1h-4zM873 161h1v1h-1zM662 162h1v1h-1zM755 162h18v1h-18zM802 162h3v1h-3zM874 162h1v1h-1zM661 163h1v1h-1zM773 163h2v1h-2zM799 163h3v1h-3zM874 163h1v1h-1zM660 164h1v1h-1zM775 164h3v1h-3zM797 164h2v1h-2zM875 164h1v1h-1zM659 165h1v1h-1zM778 165h5v1h-5zM791 165h6v1h-6zM876 165h1v1h-1zM657 166h2v1h-2zM783 166h8v1h-8zM876 166h1v1h-1zM656 167h1v1h-1zM877 167h1v1h-1zM655 168h1v1h-1zM877 168h1v1h-1zM653 169h2v1h-2zM878 169h1v1h-1zM652 170h1v1h-1zM878 170h1v1h-1zM651 171h1v1h-1zM879 171h1v1h-1zM649 172h2v1h-2zM880 172h1v1h-1zM647 173h2v1h-2zM880 173h1v1h-1zM646 174h1v1h-1zM881 174h1v1h-1zM644 175h2v1h-2zM881 175h1v1h-1zM643 176h1v1h-1zM882 176h1v1h-1zM642 177h1v1h-1zM882 177h1v1h-1zM641 178h1v1h-1zM883 178h1v1h-1zM640 179h1v1h-1zM884 179h1v1h-1zM639 180h1v1h-1zM884 180h1v1h-1zM638 181h1v1h-1zM885 181h1v1h-1zM637 182h1v1h-1zM886 182h1v1h-1zM636 183h1v1h-1zM886 183h1v1h-1zM635 184h1v1h-1zM887 184h1v1h-1zM633 185h2v1h-2zM888 185h1v1h-1zM631 186h2v1h-2zM888 186h1v1h-1zM630 187h1v1h-1zM889 187h1v1h-1zM628 188h2v1h-2zM890 188h1v1h-1zM627 189h1v1h-1zM890 189h1v1h-1zM626 190h1v1h-1zM891 190h1v1h-1zM625 191h1v1h-1zM892 191h1v1h-1zM623 192h2v1h-2zM892 192h1v1h-1zM622 193h1v1h-1zM893 193h1v1h-1zM621 194h1v1h-1zM894 194h1v1h-1zM620 195h1v1h-1zM895 195h1v1h-1zM619 196h1v1h-1zM895 196h1v1h-1zM618 197h1v1h-1zM896 197h1v1h-1zM617 198h1v1h-1zM897 198h1v1h-1zM615 199h2v1h-2zM898 199h1v1h-1zM614 200h1v1h-1zM898 200h1v1h-1zM613 201h1v1h-1zM899 201h1v1h-1zM612 202h1v1h-1zM900 202h1v1h-1zM610 203h2v1h-2zM901 203h2v1h-2zM608 204h2v1h-2zM903 204h1v1h-1zM606 205h2v1h-2zM904 205h1v1h-1zM604 206h2v1h-2zM905 206h2v1h-2zM603 207h1v1h-1zM907 207h1v1h-1zM601 208h2v1h-2zM908 208h1v1h-1zM599 209h2v1h-2zM908 209h1v1h-1zM598 210h1v1h-1zM909 210h1v1h-1zM596 211h2v1h-2zM910 211h1v1h-1zM595 212h1v1h-1zM911 212h1v1h-1zM594 213h1v1h-1zM911 213h1v1h-1zM593 214h1v1h-1zM912 214h1v1h-1zM592 215h1v1h-1zM913 215h1v1h-1zM591 216h1v1h-1zM914 216h1v1h-1zM591 217h1v1h-1zM914 217h1v1h-1zM590 218h1v1h-1zM915 218h1v1h-1zM589 219h1v1h-1zM916 219h1v1h-1zM588 220h1v1h-1zM917 220h1v1h-1zM587 221h1v1h-1zM918 221h1v1h-1zM586 222h1v1h-1zM919 222h2v1h-2zM585 223h1v1h-1zM921 223h1v1h-1zM584 224h1v1h-1zM922 224h1v1h-1zM583 225h1v1h-1zM923 225h1v1h-1zM583 226h1v1h-1zM924 226h1v1h-1zM582 227h1v1h-1zM925 227h1v1h-1zM581 228h1v1h-1zM926 228h1v1h-1zM580 229h1v1h-1zM927 229h1v1h-1zM451 230h9v1h-9zM579 230h1v1h-1zM928 230h1v1h-1zM450 231h1v1h-1zM460 231h1v1h-1zM578 231h1v1h-1zM929 231h1v1h-1zM449 232h1v1h-1zM461 232h1v1h-1zM578 232h1v1h-1zM930 232h1v1h-1zM447 233h2v1h-2zM462 233h1v1h-1zM577 233h1v1h-1zM931 233h1v1h-1zM446 234h1v1h-1zM463 234h2v1h-2zM576 234h1v1h-1zM932 234h1v1h-1zM445 235h1v1h-1zM465 235h1v1h-1zM575 235h1v1h-1zM933 235h1v1h-1zM444 236h1v1h-1zM466 236h1v1h-1zM575 236h1v1h-1zM934 236h1v1h-1zM441 237h3v1h-3zM467 237h1v1h-1zM574 237h1v1h-1zM935 237h1v1h-1zM409 238h4v1h-4zM437 238h4v1h-4zM468 238h2v1h-2zM573 238h1v1h-1zM936 238h1v1h-1zM405 239h4v1h-4zM413 239h4v1h-4zM431 239h6v1h-6zM470 239h1v1h-1zM572 239h1v1h-1zM937 239h1v1h-1zM330 240h3v1h-3zM402 240h3v1h-3zM417 240h14v1h-14zM471 240h2v1h-2zM572 240h1v1h-1zM938 240h1v1h-1zM327 241h3v1h-3zM333 241h4v1h-4zM343 241h6v1h-6zM399 241h3v1h-3zM473 241h2v1h-2zM571 241h1v1h-1zM939 241h1v1h-1zM325 242h2v1h-2zM337 242h6v1h-6zM349 242h4v1h-4zM397 242h2v1h-2zM475 242h1v1h-1zM570 242h1v1h-1zM940 242h1v1h-1zM322 243h3v1h-3zM353 243h4v1h-4zM395 243h2v1h-2zM476 243h2v1h-2zM569 243h1v1h-1zM941 243h1v1h-1zM319 244h3v1h-3zM357 244h4v1h-4zM393 244h2v1h-2zM478 244h1v1h-1zM568 244h1v1h-1zM941 244h1v1h-1zM317 245h2v1h-2zM361 245h6v1h-6zM391 245h2v1h-2zM479 245h2v1h-2zM567 245h1v1h-1zM942 245h1v1h-1zM315 246h2v1h-2zM367 246h6v1h-6zM390 246h1v1h-1zM481 246h2v1h-2zM567 246h1v1h-1zM943 246h1v1h-1zM314 247h1v1h-1zM373 247h2v1h-2zM388 247h2v1h-2zM483 247h4v1h-4zM566 247h1v1h-1zM944 247h1v1h-1zM314 248h1v1h-1zM375 248h3v1h-3zM383 248h5v1h-5zM487 248h5v1h-5zM565 248h1v1h-1zM945 248h1v1h-1zM313 249h1v1h-1zM378 249h5v1h-5zM492 249h2v1h-2zM564 249h1v1h-1zM945 249h1v1h-1zM312 250h1v1h-1zM494 250h1v1h-1zM561 250h3v1h-3zM946 250h1v1h-1zM312 251h1v1h-1zM495 251h2v1h-2zM545 251h6v1h-6zM557 251h4v1h-4zM947 251h1v1h-1zM311 252h1v1h-1zM497 252h2v1h-2zM541 252h4v1h-4zM551 252h6v1h-6zM948 252h1v1h-1zM310 253h1v1h-1zM499 253h1v1h-1zM537 253h4v1h-4zM948 253h1v1h-1zM310 254h1v1h-1zM500 254h1v1h-1zM533 254h4v1h-4zM949 254h1v1h-1zM309 255h1v1h-1zM501 255h1v1h-1zM530 255h3v1h-3zM950 255h1v1h-1zM308 256h1v1h-1zM502 256h1v1h-1zM527 256h3v1h-3zM951 256h1v1h-1zM308 257h1v1h-1zM503 257h2v1h-2zM525 257h2v1h-2zM951 257h1v1h-1zM307 258h1v1h-1zM505 258h1v1h-1zM513 258h12v1h-12zM952 258h1v1h-1zM306 259h1v1h-1zM506 259h1v1h-1zM509 259h4v1h-4zM953 259h1v1h-1zM306 260h1v1h-1zM507 260h2v1h-2zM954 260h1v1h-1zM305 261h1v1h-1zM954 261h1v1h-1zM305 262h1v1h-1zM955 262h1v1h-1zM304 263h1v1h-1zM956 263h1v1h-1zM303 264h1v1h-1zM956 264h1v1h-1zM303 265h1v1h-1zM957 265h1v1h-1zM302 266h1v1h-1zM957 266h1v1h-1zM301 267h1v1h-1zM958 267h1v1h-1zM301 268h1v1h-1zM958 268h1v1h-1zM300 269h1v1h-1zM959 269h1v1h-1zM300 270h1v1h-1zM960 270h1v1h-1zM299 271h1v1h-1zM960 271h1v1h-1zM298 272h1v1h-1zM961 272h1v1h-1zM298 273h1v1h-1zM961 273h1v1h-1zM297 274h1v1h-1zM962 274h1v1h-1zM296 275h1v1h-1zM962 275h1v1h-1zM295 276h1v1h-1zM963 276h1v1h-1zM295 277h1v1h-1zM964 277h1v1h-1zM294 278h1v1h-1zM964 278h1v1h-1zM293 279h1v1h-1zM965 279h1v1h-1zM292 280h1v1h-1zM965 280h1v1h-1zM292 281h1v1h-1zM966 281h1v1h-1zM291 282h1v1h-1zM966 282h1v1h-1zM290 283h1v1h-1zM967 283h1v1h-1zM289 284h1v1h-1zM967 284h1v1h-1zM288 285h1v1h-1zM968 285h1v1h-1zM287 286h1v1h-1zM968 286h1v1h-1zM286 287h1v1h-1zM969 287h1v1h-1zM285 288h1v1h-1zM969 288h1v1h-1zM284 289h1v1h-1zM970 289h1v1h-1zM283 290h1v1h-1zM970 290h1v1h-1zM282 291h1v1h-1zM971 291h1v1h-1zM282 292h1v1h-1zM972 292h1v1h-1zM281 293h1v1h-1zM973 293h1v1h-1zM281 294h1v1h-1zM973 294h1v1h-1zM280 295h1v1h-1zM974 295h1v1h-1zM280 296h1v1h-1zM975 296h1v1h-1zM279 297h1v1h-1zM976 297h1v1h-1zM279 298h1v1h-1zM977 298h1v1h-1zM278 299h1v1h-1zM977 299h1v1h-1zM278 300h1v1h-1zM978 300h1v1h-1zM277 301h1v1h-1zM979 301h1v1h-1zM277 302h1v1h-1zM980 302h1v1h-1zM276 303h1v1h-1zM981 303h2v1h-2zM276 304h1v1h-1zM983 304h1v1h-1zM275 305h1v1h-1zM984 305h1v1h-1zM275 306h1v1h-1zM985 306h2v1h-2zM274 307h1v1h-1zM987 307h1v1h-1zM274 308h1v1h-1zM988 308h1v1h-1zM273 309h1v1h-1zM989 309h1v1h-1zM273 310h1v1h-1zM990 310h1v1h-1zM272 311h1v1h-1zM991 311h2v1h-2zM272 312h1v1h-1zM993 312h1v1h-1zM271 313h1v1h-1zM994 313h1v1h-1zM271 314h1v1h-1zM995 314h1v1h-1zM270 315h1v1h-1zM996 315h1v1h-1zM270 316h1v1h-1zM997 316h1v1h-1zM269 317h1v1h-1zM998 317h1v1h-1zM269 318h1v1h-1zM999 318h1v1h-1zM268 319h1v1h-1zM999 319h1v1h-1zM268 320h1v1h-1zM1000 320h1v1h-1zM267 321h1v1h-1zM1001 321h1v1h-1zM267 322h1v1h-1zM1002 322h1v1h-1zM266 323h1v1h-1zM1003 323h1v1h-1zM266 324h1v1h-1zM1004 324h1v1h-1zM265 325h1v1h-1zM1004 325h1v1h-1zM265 326h1v1h-1zM1005 326h1v1h-1zM264 327h1v1h-1zM1005 327h1v1h-1zM264 328h1v1h-1zM1006 328h1v1h-1zM3 329h1v1h-1zM263 329h1v1h-1zM1007 329h1v1h-1zM4 330h1v1h-1zM262 330h1v1h-1zM1007 330h1v1h-1zM5 331h1v1h-1zM262 331h1v1h-1zM1008 331h1v1h-1zM6 332h1v1h-1zM261 332h1v1h-1zM1009 332h1v1h-1zM7 333h1v1h-1zM261 333h1v1h-1zM1009 333h1v1h-1zM8 334h1v1h-1zM260 334h1v1h-1zM1010 334h1v1h-1zM9 335h1v1h-1zM260 335h1v1h-1zM1010 335h1v1h-1zM10 336h1v1h-1zM259 336h1v1h-1zM1011 336h1v1h-1zM11 337h1v1h-1zM259 337h1v1h-1zM1011 337h1v1h-1zM12 338h1v1h-1zM258 338h1v1h-1zM1012 338h1v1h-1zM13 339h1v1h-1zM258 339h1v1h-1zM1012 339h1v1h-1zM13 340h1v1h-1zM257 340h1v1h-1zM1013 340h1v1h-1zM14 341h1v1h-1zM257 341h1v1h-1zM1013 341h1v1h-1zM15 342h1v1h-1zM256 342h1v1h-1zM1014 342h1v1h-1zM16 343h1v1h-1zM256 343h1v1h-1zM1014 343h1v1h-1zM17 344h1v1h-1zM255 344h1v1h-1zM1015 344h1v1h-1zM17 345h1v1h-1zM255 345h1v1h-1zM1015 345h1v1h-1zM18 346h1v1h-1zM254 346h1v1h-1zM1016 346h1v1h-1zM19 347h1v1h-1zM254 347h1v1h-1zM1016 347h1v1h-1zM20 348h1v1h-1zM253 348h1v1h-1zM1017 348h1v1h-1zM20 349h1v1h-1zM253 349h1v1h-1zM1017 349h1v1h-1zM21 350h1v1h-1zM155 350h1v1h-1zM252 350h1v1h-1zM1018 350h1v1h-1zM22 351h1v1h-1zM154 351h1v1h-1zM156 351h1v1h-1zM252 351h1v1h-1zM1018 351h1v1h-1zM22 352h1v1h-1zM153 352h1v1h-1zM157 352h2v1h-2zM251 352h1v1h-1zM1019 352h1v1h-1zM23 353h1v1h-1zM151 353h2v1h-2zM159 353h1v1h-1zM251 353h1v1h-1zM1019 353h1v1h-1zM24 354h1v1h-1zM150 354h1v1h-1zM160 354h1v1h-1zM250 354h1v1h-1zM1020 354h1v1h-1zM24 355h1v1h-1zM149 355h1v1h-1zM161 355h2v1h-2zM250 355h1v1h-1zM1020 355h1v1h-1zM25 356h1v1h-1zM148 356h1v1h-1zM163 356h1v1h-1zM249 356h1v1h-1zM1021 356h1v1h-1zM26 357h1v1h-1zM146 357h2v1h-2zM164 357h1v1h-1zM249 357h1v1h-1zM1021 357h1v1h-1zM26 358h1v1h-1zM144 358h2v1h-2zM164 358h1v1h-1zM248 358h1v1h-1zM1022 358h1v1h-1zM27 359h1v1h-1zM142 359h2v1h-2zM165 359h1v1h-1zM248 359h1v1h-1zM1022 359h1v1h-1zM28 360h1v1h-1zM140 360h2v1h-2zM166 360h1v1h-1zM247 360h1v1h-1zM1023 360h1v1h-1zM29 361h1v1h-1zM139 361h1v1h-1zM166 361h1v1h-1zM247 361h1v1h-1zM1023 361h1v1h-1zM29 362h1v1h-1zM138 362h1v1h-1zM167 362h1v1h-1zM246 362h1v1h-1zM1024 362h1v1h-1zM30 363h1v1h-1zM137 363h1v1h-1zM168 363h1v1h-1zM246 363h1v1h-1zM1024 363h1v1h-1zM31 364h1v1h-1zM135 364h2v1h-2zM168 364h1v1h-1zM245 364h1v1h-1zM1025 364h1v1h-1zM32 365h1v1h-1zM134 365h1v1h-1zM169 365h1v1h-1zM245 365h1v1h-1zM1025 365h1v1h-1zM33 366h1v1h-1zM133 366h1v1h-1zM170 366h1v1h-1zM244 366h1v1h-1zM1026 366h1v1h-1zM33 367h1v1h-1zM132 367h1v1h-1zM170 367h1v1h-1zM244 367h1v1h-1zM1026 367h1v1h-1zM34 368h1v1h-1zM131 368h1v1h-1zM171 368h1v1h-1zM243 368h1v1h-1zM1027 368h1v1h-1zM35 369h1v1h-1zM130 369h1v1h-1zM172 369h2v1h-2zM242 369h1v1h-1zM1027 369h1v1h-1zM36 370h1v1h-1zM129 370h1v1h-1zM174 370h1v1h-1zM242 370h1v1h-1zM1027 370h1v1h-1zM36 371h1v1h-1zM129 371h1v1h-1zM175 371h2v1h-2zM241 371h1v1h-1zM1028 371h1v1h-1zM37 372h1v1h-1zM128 372h1v1h-1zM177 372h2v1h-2zM241 372h1v1h-1zM1028 372h1v1h-1zM38 373h1v1h-1zM127 373h1v1h-1zM179 373h1v1h-1zM240 373h1v1h-1zM1029 373h1v1h-1zM38 374h1v1h-1zM126 374h1v1h-1zM180 374h1v1h-1zM240 374h1v1h-1zM1029 374h1v1h-1zM39 375h1v1h-1zM125 375h1v1h-1zM181 375h1v1h-1zM239 375h1v1h-1zM1030 375h1v1h-1zM40 376h1v1h-1zM125 376h1v1h-1zM182 376h1v1h-1zM238 376h1v1h-1zM1030 376h1v1h-1zM40 377h1v1h-1zM124 377h1v1h-1zM183 377h1v1h-1zM238 377h1v1h-1zM1030 377h1v1h-1zM41 378h1v1h-1zM123 378h1v1h-1zM184 378h1v1h-1zM237 378h1v1h-1zM1031 378h1v1h-1zM42 379h1v1h-1zM122 379h1v1h-1zM185 379h1v1h-1zM237 379h1v1h-1zM1031 379h1v1h-1zM42 380h1v1h-1zM121 380h1v1h-1zM186 380h1v1h-1zM236 380h1v1h-1zM1032 380h1v1h-1zM43 381h1v1h-1zM120 381h1v1h-1zM187 381h1v1h-1zM236 381h1v1h-1zM1032 381h1v1h-1zM44 382h2v1h-2zM119 382h1v1h-1zM188 382h1v1h-1zM235 382h1v1h-1zM1032 382h1v1h-1zM46 383h2v1h-2zM118 383h1v1h-1zM188 383h1v1h-1zM234 383h1v1h-1zM1033 383h1v1h-1zM48 384h2v1h-2zM117 384h1v1h-1zM189 384h1v1h-1zM233 384h1v1h-1zM1033 384h1v1h-1zM50 385h2v1h-2zM116 385h1v1h-1zM190 385h1v1h-1zM232 385h1v1h-1zM1034 385h1v1h-1zM52 386h2v1h-2zM115 386h1v1h-1zM191 386h1v1h-1zM231 386h1v1h-1zM1034 386h1v1h-1zM54 387h1v1h-1zM114 387h1v1h-1zM191 387h1v1h-1zM230 387h1v1h-1zM1035 387h1v1h-1zM55 388h2v1h-2zM113 388h1v1h-1zM192 388h1v1h-1zM229 388h1v1h-1zM1035 388h1v1h-1zM57 389h2v1h-2zM111 389h2v1h-2zM193 389h1v1h-1zM228 389h1v1h-1zM1035 389h1v1h-1zM59 390h1v1h-1zM110 390h1v1h-1zM194 390h1v1h-1zM226 390h2v1h-2zM1036 390h1v1h-1zM60 391h2v1h-2zM109 391h1v1h-1zM194 391h1v1h-1zM224 391h2v1h-2zM1036 391h1v1h-1zM62 392h2v1h-2zM108 392h1v1h-1zM195 392h1v1h-1zM222 392h2v1h-2zM1037 392h1v1h-1zM64 393h2v1h-2zM103 393h5v1h-5zM196 393h2v1h-2zM210 393h5v1h-5zM220 393h2v1h-2zM1037 393h1v1h-1zM66 394h2v1h-2zM87 394h16v1h-16zM198 394h2v1h-2zM207 394h3v1h-3zM215 394h5v1h-5zM1037 394h1v1h-1zM68 395h1v1h-1zM83 395h4v1h-4zM200 395h2v1h-2zM205 395h2v1h-2zM1038 395h1v1h-1zM69 396h2v1h-2zM81 396h2v1h-2zM202 396h3v1h-3zM1038 396h1v1h-1zM71 397h1v1h-1zM79 397h2v1h-2zM1038 397h1v1h-1zM72 398h1v1h-1zM78 398h1v1h-1zM1039 398h1v1h-1zM73 399h2v1h-2zM76 399h2v1h-2zM1039 399h1v1h-1zM75 400h1v1h-1zM1040 400h1v1h-1zM1040 401h1v1h-1zM1040 402h1v1h-1zM1041 403h1v1h-1zM1041 404h1v1h-1zM1041 405h1v1h-1zM1042 406h1v1h-1zM1042 407h1v1h-1zM1043 408h1v1h-1zM1043 409h1v1h-1zM1043 410h1v1h-1zM1044 411h1v1h-1zM1044 412h1v1h-1zM1044 413h1v1h-1zM1045 414h1v1h-1zM1045 415h1v1h-1zM1045 416h1v1h-1zM1046 417h1v1h-1zM1046 418h1v1h-1zM1046 419h1v1h-1zM1047 420h1v1h-1zM1047 421h1v1h-1zM1047 422h1v1h-1zM1048 423h1v1h-1zM1048 424h1v1h-1zM1048 425h1v1h-1zM1049 426h1v1h-1zM1049 427h1v1h-1zM1049 428h1v1h-1zM1050 429h1v1h-1zM1050 430h1v1h-1zM1050 431h1v1h-1zM1051 432h1v1h-1zM1051 433h1v1h-1zM1051 434h1v1h-1zM1052 435h1v1h-1zM1052 436h1v1h-1zM1052 437h1v1h-1zM1053 438h1v1h-1zM1053 439h1v1h-1zM1054 440h1v1h-1zM1054 441h1v1h-1zM1054 442h1v1h-1zM1055 443h1v1h-1zM1055 444h1v1h-1zM1055 445h1v1h-1zM1056 446h1v1h-1zM1056 447h1v1h-1zM1056 448h1v1h-1zM1057 449h1v1h-1zM1057 450h1v1h-1zM1058 451h1v1h-1zM1058 452h1v1h-1zM1058 453h1v1h-1zM1059 454h1v1h-1zM1059 455h1v1h-1zM1060 456h1v1h-1zM1060 457h1v1h-1zM1061 458h1v1h-1zM1061 459h1v1h-1zM1062 460h1v1h-1zM1063 461h1v1h-1zM1063 462h1v1h-1zM1064 463h1v1h-1zM1065 464h1v1h-1zM1065 465h1v1h-1zM1066 466h1v1h-1zM1066 467h1v1h-1zM1067 468h1v1h-1zM1068 469h1v1h-1zM1069 470h1v1h-1zM1070 471h1v1h-1zM1071 472h2v1h-2zM1073 473h1v1h-1zM1074 474h1v1h-1zM1075 475h1v1h-1zM1076 476h1v1h-1zM1077 477h1v1h-1zM1078 478h1v1h-1zM1079 479h2v1h-2zM1081 480h1v1h-1zM1082 481h1v1h-1zM1083 482h1v1h-1zM1084 483h2v1h-2zM1086 484h1v1h-1zM1087 485h2v1h-2zM1089 486h2v1h-2zM1091 487h1v1h-1zM1092 488h1v1h-1zM1093 489h1v1h-1zM1094 490h1v1h-1zM1095 491h2v1h-2zM1097 492h1v1h-1zM1098 493h1v1h-1zM1099 494h1v1h-1zM1100 495h1v1h-1zM1101 496h1v1h-1zM1102 497h1v1h-1zM1103 498h2v1h-2zM1105 499h1v1h-1zM1106 500h1v1h-1zM1107 501h1v1h-1zM1108 502h2v1h-2zM1110 503h1v1h-1zM1111 504h2v1h-2zM1113 505h2v1h-2z" fill="#ff0000" shape-rendering="crispEdges"/>
<path d="M835 120h9v1h-9zM834 121h1v1h-1zM844 121h1v1h-1zM834 122h1v1h-1zM845 122h2v1h-2zM833 123h1v1h-1zM847 123h1v1h-1zM832 124h1v1h-1zM848 124h1v1h-1zM831 125h1v1h-1zM849 125h2v1h-2zM831 126h1v1h-1zM851 126h1v1h-1zM830 127h1v1h-1zM852 127h1v1h-1zM829 128h1v1h-1zM853 128h1v1h-1zM828 129h1v1h-1zM854 129h1v1h-1zM828 130h1v1h-1zM855 130h1v1h-1zM827 131h1v1h-1zM855 131h1v1h-1zM825 132h2v1h-2zM856 132h1v1h-1zM824 133h1v1h-1zM857 133h1v1h-1zM823 134h1v1h-1zM858 134h1v1h-1zM821 135h2v1h-2zM859 135h1v1h-1zM820 136h1v1h-1zM859 136h1v1h-1zM819 137h1v1h-1zM860 137h1v1h-1zM818 138h1v1h-1zM860 138h1v1h-1zM818 139h1v1h-1zM861 139h1v1h-1zM817 140h1v1h-1zM861 140h1v1h-1zM817 141h1v1h-1zM861 141h1v1h-1zM816 142h1v1h-1zM862 142h1v1h-1zM815 143h1v1h-1zM862 143h1v1h-1zM815 144h1v1h-1zM862 144h1v1h-1zM814 145h1v1h-1zM863 145h1v1h-1zM813 146h1v1h-1zM863 146h1v1h-1zM813 147h1v1h-1zM864 147h1v1h-1zM812 148h1v1h-1zM864 148h1v1h-1zM812 149h1v1h-1zM864 149h1v1h-1zM674 150h2v1h-2zM811 150h1v1h-1zM865 150h1v1h-1zM672 151h2v1h-2zM676 151h1v1h-1zM810 151h1v1h-1zM865 151h1v1h-1zM670 152h2v1h-2zM677 152h1v1h-1zM705 152h3v1h-3zM810 152h1v1h-1zM865 152h1v1h-1zM668 153h2v1h-2zM678 153h1v1h-1zM701 153h4v1h-4zM708 153h2v1h-2zM809 153h1v1h-1zM866 153h1v1h-1zM667 154h1v1h-1zM679 154h2v1h-2zM695 154h6v1h-6zM710 154h2v1h-2zM809 154h1v1h-1zM866 154h1v1h-1zM666 155h1v1h-1zM681 155h1v1h-1zM689 155h6v1h-6zM712 155h2v1h-2zM808 155h1v1h-1zM867 155h1v1h-1zM666 156h1v1h-1zM682 156h1v1h-1zM685 156h4v1h-4zM714 156h3v1h-3zM808 156h1v1h-1zM867 156h1v1h-1zM615 157h6v1h-6zM665 157h1v1h-1zM683 157h2v1h-2zM717 157h4v1h-4zM807 157h1v1h-1zM867 157h1v1h-1zM611 158h4v1h-4zM621 158h2v1h-2zM664 158h1v1h-1zM721 158h4v1h-4zM738 158h3v1h-3zM807 158h1v1h-1zM867 158h1v1h-1zM609 159h2v1h-2zM623 159h3v1h-3zM663 159h1v1h-1zM725 159h2v1h-2zM735 159h3v1h-3zM741 159h4v1h-4zM806 159h1v1h-1zM868 159h1v1h-1zM608 160h1v1h-1zM626 160h2v1h-2zM663 160h1v1h-1zM727 160h3v1h-3zM733 160h2v1h-2zM745 160h3v1h-3zM806 160h1v1h-1zM868 160h1v1h-1zM607 161h1v1h-1zM628 161h1v1h-1zM662 161h1v1h-1zM730 161h3v1h-3zM748 161h1v1h-1zM805 161h1v1h-1zM868 161h1v1h-1zM605 162h2v1h-2zM629 162h1v1h-1zM661 162h1v1h-1zM749 162h1v1h-1zM805 162h1v1h-1zM868 162h1v1h-1zM604 163h1v1h-1zM630 163h1v1h-1zM660 163h1v1h-1zM749 163h1v1h-1zM804 163h1v1h-1zM869 163h1v1h-1zM603 164h1v1h-1zM631 164h2v1h-2zM660 164h1v1h-1zM750 164h1v1h-1zM804 164h1v1h-1zM869 164h1v1h-1zM602 165h1v1h-1zM633 165h1v1h-1zM658 165h2v1h-2zM751 165h1v1h-1zM803 165h1v1h-1zM869 165h1v1h-1zM601 166h1v1h-1zM634 166h1v1h-1zM639 166h6v1h-6zM655 166h3v1h-3zM752 166h1v1h-1zM802 166h1v1h-1zM869 166h1v1h-1zM601 167h1v1h-1zM635 167h4v1h-4zM645 167h4v1h-4zM653 167h2v1h-2zM753 167h1v1h-1zM801 167h1v1h-1zM870 167h1v1h-1zM600 168h1v1h-1zM649 168h4v1h-4zM753 168h1v1h-1zM771 168h1v1h-1zM800 168h1v1h-1zM870 168h1v1h-1zM599 169h1v1h-1zM754 169h1v1h-1zM769 169h2v1h-2zM772 169h2v1h-2zM799 169h1v1h-1zM870 169h1v1h-1zM598 170h1v1h-1zM755 170h2v1h-2zM767 170h2v1h-2zM774 170h2v1h-2zM798 170h1v1h-1zM870 170h1v1h-1zM597 171h1v1h-1zM757 171h2v1h-2zM766 171h1v1h-1zM776 171h2v1h-2zM797 171h1v1h-1zM870 171h1v1h-1zM597 172h1v1h-1zM759 172h3v1h-3zM764 172h2v1h-2zM778 172h13v1h-13zM796 172h1v1h-1zM871 172h1v1h-1zM596 173h1v1h-1zM762 173h2v1h-2zM791 173h5v1h-5zM871 173h1v1h-1zM595 174h1v1h-1zM871 174h1v1h-1zM594 175h1v1h-1zM871 175h1v1h-1zM594 176h1v1h-1zM872 176h1v1h-1zM593 177h1v1h-1zM872 177h1v1h-1zM592 178h1v1h-1zM872 178h1v1h-1zM592 179h1v1h-1zM872 179h1v1h-1zM591 180h1v1h-1zM872 180h1v1h-1zM590 181h1v1h-1zM873 181h1v1h-1zM590 182h1v1h-1zM873 182h1v1h-1zM589 183h1v1h-1zM873 183h1v1h-1zM588 184h1v1h-1zM873 184h1v1h-1zM588 185h1v1h-1zM874 185h1v1h-1zM587 186h1v1h-1zM874 186h1v1h-1zM586 187h1v1h-1zM874 187h1v1h-1zM586 188h1v1h-1zM874 188h1v1h-1zM585 189h1v1h-1zM875 189h1v1h-1zM585 190h1v1h-1zM875 190h1v1h-1zM584 191h1v1h-1zM875 191h1v1h-1zM584 192h1v1h-1zM875 192h1v1h-1zM583 193h1v1h-1zM875 193h1v1h-1zM583 194h1v1h-1zM876 194h1v1h-1zM582 195h1v1h-1zM876 195h1v1h-1zM582 196h1v1h-1zM876 196h1v1h-1zM581 197h1v1h-1zM876 197h1v1h-1zM581 198h1v1h-1zM877 198h1v1h-1zM580 199h1v1h-1zM877 199h1v1h-1zM580 200h1v1h-1zM877 200h1v1h-1zM579 201h1v1h-1zM877 201h1v1h-1zM579 202h1v1h-1zM878 202h1v1h-1zM578 203h1v1h-1zM878 203h1v1h-1zM283 204h1v1h-1zM578 204h1v1h-1zM878 204h1v1h-1zM281 205h2v1h-2zM284 205h1v1h-1zM395 205h2v1h-2zM577 205h1v1h-1zM878 205h1v1h-1zM280 206h1v1h-1zM285 206h1v1h-1zM395 206h1v1h-1zM397 206h2v1h-2zM577 206h1v1h-1zM879 206h1v1h-1zM279 207h1v1h-1zM286 207h1v1h-1zM394 207h1v1h-1zM399 207h3v1h-3zM576 207h1v1h-1zM879 207h1v1h-1zM277 208h2v1h-2zM287 208h2v1h-2zM394 208h1v1h-1zM402 208h2v1h-2zM576 208h1v1h-1zM879 208h1v1h-1zM276 209h1v1h-1zM289 209h1v1h-1zM393 209h1v1h-1zM404 209h1v1h-1zM575 209h1v1h-1zM879 209h1v1h-1zM275 210h1v1h-1zM290 210h1v1h-1zM393 210h1v1h-1zM405 210h1v1h-1zM575 210h1v1h-1zM879 210h1v1h-1zM274 211h1v1h-1zM291 211h1v1h-1zM393 211h1v1h-1zM406 211h1v1h-1zM574 211h1v1h-1zM880 211h1v1h-1zM274 212h1v1h-1zM292 212h1v1h-1zM392 212h1v1h-1zM407 212h1v1h-1zM574 212h1v1h-1zM880 212h1v1h-1zM273 213h1v1h-1zM292 213h1v1h-1zM392 213h1v1h-1zM407 213h1v1h-1zM573 213h1v1h-1zM880 213h1v1h-1zM273 214h1v1h-1zM293 214h1v1h-1zM391 214h1v1h-1zM408 214h1v1h-1zM573 214h1v1h-1zM880 214h1v1h-1zM272 215h1v1h-1zM293 215h1v1h-1zM391 215h1v1h-1zM409 215h1v1h-1zM572 215h1v1h-1zM881 215h1v1h-1zM272 216h1v1h-1zM294 216h1v1h-1zM391 216h1v1h-1zM410 216h1v1h-1zM572 216h1v1h-1zM881 216h1v1h-1zM271 217h1v1h-1zM294 217h1v1h-1zM390 217h1v1h-1zM411 217h1v1h-1zM571 217h1v1h-1zM881 217h1v1h-1zM271 218h1v1h-1zM295 218h1v1h-1zM390 218h1v1h-1zM412 218h1v1h-1zM571 218h1v1h-1zM881 218h1v1h-1zM270 219h1v1h-1zM295 219h1v1h-1zM389 219h1v1h-1zM412 219h1v1h-1zM571 219h1v1h-1zM882 219h1v1h-1zM270 220h1v1h-1zM296 220h1v1h-1zM389 220h1v1h-1zM413 220h1v1h-1zM570 220h1v1h-1zM882 220h1v1h-1zM269 221h1v1h-1zM296 221h1v1h-1zM389 221h1v1h-1zM413 221h1v1h-1zM570 221h1v1h-1zM882 221h1v1h-1zM269 222h1v1h-1zM297 222h1v1h-1zM388 222h1v1h-1zM414 222h1v1h-1zM569 222h1v1h-1zM882 222h1v1h-1zM268 223h1v1h-1zM297 223h1v1h-1zM388 223h1v1h-1zM415 223h1v1h-1zM569 223h1v1h-1zM883 223h1v1h-1zM268 224h1v1h-1zM298 224h1v1h-1zM387 224h1v1h-1zM415 224h1v1h-1zM568 224h1v1h-1zM883 224h1v1h-1zM267 225h1v1h-1zM298 225h1v1h-1zM387 225h1v1h-1zM416 225h1v1h-1zM568 225h1v1h-1zM883 225h1v1h-1zM267 226h1v1h-1zM299 226h1v1h-1zM386 226h1v1h-1zM417 226h1v1h-1zM567 226h1v1h-1zM883 226h1v1h-1zM266 227h1v1h-1zM299 227h1v1h-1zM386 227h1v1h-1zM417 227h1v1h-1zM567 227h1v1h-1zM883 227h1v1h-1zM266 228h1v1h-1zM300 228h1v1h-1zM385 228h1v1h-1zM418 228h1v1h-1zM566 228h1v1h-1zM884 228h1v1h-1zM265 229h1v1h-1zM300 229h1v1h-1zM384 229h1v1h-1zM418 229h1v1h-1zM566 229h1v1h-1zM884 229h1v1h-1zM265 230h1v1h-1zM301 230h1v1h-1zM384 230h1v1h-1zM419 230h1v1h-1zM565 230h1v1h-1zM884 230h1v1h-1zM264 231h1v1h-1zM301 231h1v1h-1zM383 231h1v1h-1zM420 231h1v1h-1zM565 231h1v1h-1zM884 231h1v1h-1zM264 232h1v1h-1zM302 232h1v1h-1zM382 232h1v1h-1zM421 232h1v1h-1zM564 232h1v1h-1zM885 232h1v1h-1zM263 233h1v1h-1zM302 233h1v1h-1zM382 233h1v1h-1zM422 233h1v1h-1zM564 233h1v1h-1zM885 233h1v1h-1zM263 234h1v1h-1zM303 234h1v1h-1zM381 234h1v1h-1zM423 234h2v1h-2zM563 234h1v1h-1zM885 234h1v1h-1zM262 235h1v1h-1zM304 235h1v1h-1zM380 235h1v1h-1zM425 235h1v1h-1zM562 235h1v1h-1zM885 235h1v1h-1zM262 236h1v1h-1zM304 236h1v1h-1zM380 236h1v1h-1zM426 236h1v1h-1zM562 236h1v1h-1zM886 236h1v1h-1zM261 237h1v1h-1zM305 237h1v1h-1zM379 237h1v1h-1zM427 237h1v1h-1zM561 237h1v1h-1zM886 237h1v1h-1zM261 238h1v1h-1zM305 238h1v1h-1zM377 238h2v1h-2zM428 238h2v1h-2zM561 238h1v1h-1zM886 238h1v1h-1zM260 239h1v1h-1zM306 239h1v1h-1zM375 239h2v1h-2zM430 239h1v1h-1zM560 239h1v1h-1zM886 239h1v1h-1zM260 240h1v1h-1zM306 240h1v1h-1zM374 240h1v1h-1zM431 240h2v1h-2zM559 240h1v1h-1zM886 240h1v1h-1zM259 241h1v1h-1zM307 241h1v1h-1zM372 241h2v1h-2zM433 241h2v1h-2zM559 241h1v1h-1zM887 241h1v1h-1zM947 241h2v1h-2zM259 242h1v1h-1zM308 242h1v1h-1zM371 242h1v1h-1zM435 242h1v1h-1zM558 242h1v1h-1zM887 242h1v1h-1zM946 242h1v1h-1zM949 242h4v1h-4zM259 243h1v1h-1zM309 243h1v1h-1zM370 243h1v1h-1zM436 243h1v1h-1zM557 243h1v1h-1zM887 243h1v1h-1zM946 243h1v1h-1zM953 243h3v1h-3zM258 244h1v1h-1zM310 244h1v1h-1zM369 244h1v1h-1zM437 244h1v1h-1zM557 244h1v1h-1zM887 244h1v1h-1zM945 244h1v1h-1zM955 244h1v1h-1zM258 245h1v1h-1zM311 245h1v1h-1zM368 245h1v1h-1zM438 245h1v1h-1zM556 245h1v1h-1zM888 245h1v1h-1zM945 245h1v1h-1zM956 245h1v1h-1zM258 246h1v1h-1zM311 246h1v1h-1zM367 246h1v1h-1zM439 246h2v1h-2zM556 246h1v1h-1zM888 246h1v1h-1zM944 246h1v1h-1zM956 246h1v1h-1zM258 247h1v1h-1zM312 247h1v1h-1zM366 247h1v1h-1zM441 247h1v1h-1zM553 247h3v1h-3zM888 247h1v1h-1zM944 247h1v1h-1zM957 247h1v1h-1zM257 248h1v1h-1zM313 248h1v1h-1zM365 248h1v1h-1zM442 248h1v1h-1zM549 248h4v1h-4zM888 248h1v1h-1zM943 248h1v1h-1zM957 248h1v1h-1zM257 249h1v1h-1zM314 249h1v1h-1zM364 249h1v1h-1zM443 249h1v1h-1zM539 249h10v1h-10zM888 249h1v1h-1zM943 249h1v1h-1zM957 249h1v1h-1zM257 250h1v1h-1zM315 250h1v1h-1zM363 250h1v1h-1zM444 250h2v1h-2zM538 250h1v1h-1zM889 250h1v1h-1zM942 250h1v1h-1zM958 250h1v1h-1zM257 251h1v1h-1zM316 251h1v1h-1zM362 251h1v1h-1zM446 251h1v1h-1zM537 251h1v1h-1zM889 251h1v1h-1zM942 251h1v1h-1zM958 251h1v1h-1zM256 252h1v1h-1zM316 252h1v1h-1zM361 252h1v1h-1zM447 252h2v1h-2zM457 252h3v1h-3zM536 252h1v1h-1zM889 252h1v1h-1zM941 252h1v1h-1zM959 252h1v1h-1zM256 253h1v1h-1zM317 253h1v1h-1zM360 253h1v1h-1zM449 253h2v1h-2zM453 253h4v1h-4zM460 253h2v1h-2zM491 253h1v1h-1zM535 253h1v1h-1zM889 253h1v1h-1zM941 253h1v1h-1zM959 253h1v1h-1zM256 254h1v1h-1zM318 254h1v1h-1zM359 254h1v1h-1zM451 254h2v1h-2zM462 254h2v1h-2zM473 254h3v1h-3zM489 254h2v1h-2zM492 254h2v1h-2zM534 254h1v1h-1zM890 254h1v1h-1zM940 254h1v1h-1zM959 254h1v1h-1zM256 255h1v1h-1zM319 255h1v1h-1zM359 255h1v1h-1zM464 255h2v1h-2zM469 255h4v1h-4zM476 255h2v1h-2zM487 255h2v1h-2zM494 255h2v1h-2zM533 255h1v1h-1zM890 255h1v1h-1zM940 255h1v1h-1zM960 255h1v1h-1zM255 256h1v1h-1zM319 256h1v1h-1zM358 256h1v1h-1zM466 256h3v1h-3zM478 256h2v1h-2zM486 256h1v1h-1zM496 256h2v1h-2zM532 256h1v1h-1zM890 256h1v1h-1zM939 256h1v1h-1zM960 256h1v1h-1zM255 257h1v1h-1zM320 257h1v1h-1zM357 257h1v1h-1zM480 257h2v1h-2zM484 257h2v1h-2zM498 257h2v1h-2zM529 257h3v1h-3zM890 257h1v1h-1zM939 257h1v1h-1zM961 257h1v1h-1zM255 258h1v1h-1zM321 258h1v1h-1zM356 258h1v1h-1zM482 258h2v1h-2zM500 258h1v1h-1zM525 258h4v1h-4zM891 258h1v1h-1zM938 258h1v1h-1zM961 258h1v1h-1zM255 259h1v1h-1zM322 259h1v1h-1zM355 259h1v1h-1zM501 259h1v1h-1zM523 259h2v1h-2zM891 259h1v1h-1zM938 259h1v1h-1zM961 259h1v1h-1zM255 260h1v1h-1zM322 260h1v1h-1zM354 260h1v1h-1zM502 260h1v1h-1zM521 260h2v1h-2zM891 260h1v1h-1zM937 260h1v1h-1zM962 260h1v1h-1zM254 261h1v1h-1zM323 261h1v1h-1zM354 261h1v1h-1zM503 261h1v1h-1zM520 261h1v1h-1zM891 261h1v1h-1zM937 261h1v1h-1zM962 261h1v1h-1zM254 262h1v1h-1zM324 262h1v1h-1zM353 262h1v1h-1zM504 262h1v1h-1zM519 262h1v1h-1zM892 262h1v1h-1zM936 262h1v1h-1zM963 262h1v1h-1zM254 263h1v1h-1zM325 263h1v1h-1zM352 263h1v1h-1zM505 263h1v1h-1zM517 263h2v1h-2zM892 263h1v1h-1zM936 263h1v1h-1zM963 263h1v1h-1zM254 264h1v1h-1zM325 264h1v1h-1zM352 264h1v1h-1zM506 264h1v1h-1zM516 264h1v1h-1zM892 264h1v1h-1zM936 264h1v1h-1zM964 264h1v1h-1zM253 265h1v1h-1zM326 265h1v1h-1zM351 265h1v1h-1zM507 265h9v1h-9zM893 265h1v1h-1zM935 265h1v1h-1zM964 265h1v1h-1zM253 266h1v1h-1zM327 266h1v1h-1zM350 266h1v1h-1zM893 266h1v1h-1zM935 266h1v1h-1zM965 266h1v1h-1zM253 267h1v1h-1zM328 267h1v1h-1zM350 267h1v1h-1zM894 267h1v1h-1zM934 267h1v1h-1zM965 267h1v1h-1zM253 268h1v1h-1zM329 268h1v1h-1zM349 268h1v1h-1zM894 268h1v1h-1zM934 268h1v1h-1zM966 268h1v1h-1zM252 269h1v1h-1zM329 269h1v1h-1zM348 269h1v1h-1zM894 269h1v1h-1zM934 269h1v1h-1zM966 269h1v1h-1zM252 270h1v1h-1zM330 270h1v1h-1zM348 270h1v1h-1zM895 270h1v1h-1zM933 270h1v1h-1zM967 270h1v1h-1zM252 271h1v1h-1zM331 271h1v1h-1zM347 271h1v1h-1zM895 271h1v1h-1zM933 271h1v1h-1zM967 271h1v1h-1zM252 272h1v1h-1zM332 272h1v1h-1zM346 272h1v1h-1zM895 272h1v1h-1zM932 272h1v1h-1zM968 272h1v1h-1zM251 273h1v1h-1zM333 273h1v1h-1zM345 273h1v1h-1zM896 273h1v1h-1zM932 273h1v1h-1zM968 273h1v1h-1zM251 274h1v1h-1zM333 274h1v1h-1zM345 274h1v1h-1zM896 274h1v1h-1zM931 274h1v1h-1zM969 274h1v1h-1zM251 275h1v1h-1zM334 275h1v1h-1zM344 275h1v1h-1zM896 275h1v1h-1zM931 275h1v1h-1zM969 275h1v1h-1zM251 276h1v1h-1zM335 276h1v1h-1zM343 276h1v1h-1zM897 276h1v1h-1zM931 276h1v1h-1zM970 276h1v1h-1zM251 277h1v1h-1zM336 277h1v1h-1zM342 277h1v1h-1zM897 277h1v1h-1zM930 277h1v1h-1zM970 277h1v1h-1zM250 278h1v1h-1zM337 278h1v1h-1zM341 278h1v1h-1zM898 278h1v1h-1zM930 278h1v1h-1zM971 278h1v1h-1zM250 279h1v1h-1zM337 279h1v1h-1zM341 279h1v1h-1zM898 279h1v1h-1zM929 279h1v1h-1zM971 279h1v1h-1zM250 280h1v1h-1zM338 280h1v1h-1zM340 280h1v1h-1zM898 280h1v1h-1zM929 280h1v1h-1zM971 280h1v1h-1zM250 281h1v1h-1zM339 281h1v1h-1zM899 281h1v1h-1zM928 281h1v1h-1zM972 281h1v1h-1zM250 282h1v1h-1zM899 282h1v1h-1zM928 282h1v1h-1zM972 282h1v1h-1zM249 283h1v1h-1zM900 283h1v1h-1zM928 283h1v1h-1zM972 283h1v1h-1zM249 284h1v1h-1zM901 284h1v1h-1zM927 284h1v1h-1zM972 284h1v1h-1zM249 285h1v1h-1zM902 285h1v1h-1zM927 285h1v1h-1zM973 285h1v1h-1zM249 286h1v1h-1zM903 286h2v1h-2zM926 286h1v1h-1zM973 286h1v1h-1zM249 287h1v1h-1zM905 287h1v1h-1zM926 287h1v1h-1zM973 287h1v1h-1zM248 288h1v1h-1zM906 288h1v1h-1zM926 288h1v1h-1zM973 288h1v1h-1zM248 289h1v1h-1zM907 289h1v1h-1zM925 289h1v1h-1zM974 289h1v1h-1zM248 290h1v1h-1zM908 290h1v1h-1zM925 290h1v1h-1zM974 290h1v1h-1zM248 291h1v1h-1zM908 291h1v1h-1zM924 291h1v1h-1zM974 291h1v1h-1zM248 292h1v1h-1zM909 292h1v1h-1zM924 292h1v1h-1zM974 292h1v1h-1zM247 293h1v1h-1zM909 293h1v1h-1zM923 293h1v1h-1zM975 293h1v1h-1zM247 294h1v1h-1zM910 294h1v1h-1zM923 294h1v1h-1zM975 294h1v1h-1zM247 295h1v1h-1zM911 295h1v1h-1zM922 295h1v1h-1zM975 295h1v1h-1zM247 296h1v1h-1zM911 296h1v1h-1zM921 296h1v1h-1zM976 296h1v1h-1zM247 297h1v1h-1zM912 297h1v1h-1zM920 297h1v1h-1zM976 297h1v1h-1zM246 298h1v1h-1zM913 298h1v1h-1zM919 298h1v1h-1zM976 298h1v1h-1zM246 299h1v1h-1zM913 299h1v1h-1zM918 299h1v1h-1zM976 299h1v1h-1zM246 300h1v1h-1zM914 300h1v1h-1zM917 300h1v1h-1zM977 300h1v1h-1zM246 301h1v1h-1zM914 301h1v1h-1zM916 301h1v1h-1zM977 301h1v1h-1zM246 302h1v1h-1zM915 302h1v1h-1zM977 302h1v1h-1zM245 303h1v1h-1zM977 303h1v1h-1zM245 304h1v1h-1zM978 304h1v1h-1zM245 305h1v1h-1zM978 305h1v1h-1zM245 306h1v1h-1zM978 306h1v1h-1zM245 307h1v1h-1zM978 307h1v1h-1zM244 308h1v1h-1zM979 308h1v1h-1zM244 309h1v1h-1zM979 309h1v1h-1zM244 310h1v1h-1zM979 310h1v1h-1zM244 311h1v1h-1zM980 311h1v1h-1zM244 312h1v1h-1zM980 312h1v1h-1zM243 313h1v1h-1zM980 313h1v1h-1zM243 314h1v1h-1zM980 314h1v1h-1zM243 315h1v1h-1zM981 315h1v1h-1zM243 316h1v1h-1zM981 316h1v1h-1zM243 317h1v1h-1zM981 317h1v1h-1zM242 318h1v1h-1zM981 318h1v1h-1zM242 319h1v1h-1zM982 319h1v1h-1zM242 320h1v1h-1zM982 320h1v1h-1zM242 321h1v1h-1zM982 321h1v1h-1zM242 322h1v1h-1zM982 322h1v1h-1zM107 323h1v1h-1zM241 323h1v1h-1zM983 323h1v1h-1zM106 324h1v1h-1zM108 324h1v1h-1zM241 324h1v1h-1zM983 324h1v1h-1zM106 325h1v1h-1zM109 325h1v1h-1zM241 325h1v1h-1zM983 325h1v1h-1zM105 326h1v1h-1zM110 326h1v1h-1zM241 326h1v1h-1zM983 326h1v1h-1zM104 327h1v1h-1zM111 327h1v1h-1zM240 327h1v1h-1zM984 327h1v1h-1zM103 328h1v1h-1zM111 328h1v1h-1zM240 328h1v1h-1zM984 328h1v1h-1zM103 329h1v1h-1zM112 329h1v1h-1zM240 329h1v1h-1zM984 329h1v1h-1zM102 330h1v1h-1zM113 330h1v1h-1zM240 330h1v1h-1zM984 330h1v1h-1zM101 331h1v1h-1zM114 331h1v1h-1zM240 331h1v1h-1zM985 331h1v1h-1zM100 332h1v1h-1zM115 332h1v1h-1zM239 332h1v1h-1zM985 332h1v1h-1zM100 333h1v1h-1zM116 333h2v1h-2zM239 333h1v1h-1zM985 333h1v1h-1zM99 334h1v1h-1zM118 334h2v1h-2zM239 334h1v1h-1zM985 334h1v1h-1zM99 335h1v1h-1zM120 335h2v1h-2zM239 335h1v1h-1zM986 335h1v1h-1zM98 336h1v1h-1zM122 336h2v1h-2zM239 336h1v1h-1zM986 336h1v1h-1zM98 337h1v1h-1zM124 337h2v1h-2zM238 337h1v1h-1zM986 337h1v1h-1zM97 338h1v1h-1zM126 338h1v1h-1zM238 338h1v1h-1zM986 338h1v1h-1zM97 339h1v1h-1zM127 339h2v1h-2zM238 339h1v1h-1zM987 339h1v1h-1zM3 340h1v1h-1zM96 340h1v1h-1zM129 340h2v1h-2zM238 340h1v1h-1zM987 340h1v1h-1zM3 341h1v1h-1zM96 341h1v1h-1zM131 341h1v1h-1zM238 341h1v1h-1zM987 341h1v1h-1zM4 342h1v1h-1zM95 342h1v1h-1zM132 342h1v1h-1zM237 342h1v1h-1zM988 342h1v1h-1zM4 343h1v1h-1zM95 343h1v1h-1zM132 343h1v1h-1zM237 343h1v1h-1zM988 343h1v1h-1zM4 344h1v1h-1zM95 344h1v1h-1zM133 344h1v1h-1zM237 344h1v1h-1zM988 344h1v1h-1zM4 345h1v1h-1zM94 345h1v1h-1zM133 345h1v1h-1zM237 345h1v1h-1zM988 345h1v1h-1zM5 346h1v1h-1zM94 346h1v1h-1zM134 346h1v1h-1zM236 346h1v1h-1zM989 346h1v1h-1zM5 347h1v1h-1zM93 347h1v1h-1zM135 347h1v1h-1zM236 347h1v1h-1zM989 347h1v1h-1zM5 348h1v1h-1zM93 348h1v1h-1zM135 348h1v1h-1zM236 348h1v1h-1zM989 348h1v1h-1zM5 349h1v1h-1zM92 349h1v1h-1zM136 349h1v1h-1zM236 349h1v1h-1zM989 349h1v1h-1zM6 350h1v1h-1zM92 350h1v1h-1zM137 350h1v1h-1zM236 350h1v1h-1zM990 350h1v1h-1zM6 351h1v1h-1zM91 351h1v1h-1zM137 351h1v1h-1zM235 351h1v1h-1zM990 351h1v1h-1zM6 352h1v1h-1zM91 352h1v1h-1zM138 352h1v1h-1zM235 352h1v1h-1zM990 352h1v1h-1zM6 353h1v1h-1zM90 353h1v1h-1zM138 353h1v1h-1zM235 353h1v1h-1zM990 353h1v1h-1zM7 354h1v1h-1zM90 354h1v1h-1zM139 354h1v1h-1zM235 354h1v1h-1zM991 354h1v1h-1zM7 355h1v1h-1zM89 355h1v1h-1zM140 355h1v1h-1zM234 355h1v1h-1zM991 355h1v1h-1zM7 356h1v1h-1zM89 356h1v1h-1zM141 356h1v1h-1zM234 356h1v1h-1zM991 356h1v1h-1zM7 357h1v1h-1zM88 357h1v1h-1zM142 357h1v1h-1zM234 357h1v1h-1zM991 357h1v1h-1zM8 358h1v1h-1zM88 358h1v1h-1zM143 358h1v1h-1zM233 358h1v1h-1zM992 358h1v1h-1zM8 359h1v1h-1zM87 359h1v1h-1zM144 359h1v1h-1zM233 359h1v1h-1zM992 359h1v1h-1zM8 360h1v1h-1zM87 360h1v1h-1zM145 360h1v1h-1zM233 360h1v1h-1zM992 360h1v1h-1zM8 361h1v1h-1zM86 361h1v1h-1zM146 361h1v1h-1zM232 361h1v1h-1zM992 361h1v1h-1zM9 362h1v1h-1zM86 362h1v1h-1zM147 362h1v1h-1zM232 362h1v1h-1zM993 362h1v1h-1zM9 363h1v1h-1zM85 363h1v1h-1zM148 363h2v1h-2zM232 363h1v1h-1zM993 363h1v1h-1zM9 364h1v1h-1zM85 364h1v1h-1zM150 364h2v1h-2zM231 364h1v1h-1zM993 364h1v1h-1zM9 365h1v1h-1zM84 365h1v1h-1zM152 365h2v1h-2zM231 365h1v1h-1zM993 365h1v1h-1zM10 366h1v1h-1zM84 366h1v1h-1zM154 366h2v1h-2zM230 366h1v1h-1zM994 366h1v1h-1zM10 367h1v1h-1zM83 367h1v1h-1zM155 367h1v1h-1zM230 367h1v1h-1zM994 367h1v1h-1zM10 368h1v1h-1zM83 368h1v1h-1zM156 368h1v1h-1zM230 368h1v1h-1zM994 368h1v1h-1zM10 369h1v1h-1zM82 369h1v1h-1zM156 369h1v1h-1zM229 369h1v1h-1zM994 369h1v1h-1zM11 370h1v1h-1zM82 370h1v1h-1zM156 370h1v1h-1zM229 370h1v1h-1zM995 370h1v1h-1zM11 371h1v1h-1zM82 371h1v1h-1zM157 371h1v1h-1zM229 371h1v1h-1zM995 371h1v1h-1zM11 372h1v1h-1zM82 372h1v1h-1zM157 372h1v1h-1zM228 372h1v1h-1zM995 372h1v1h-1zM11 373h1v1h-1zM81 373h1v1h-1zM158 373h1v1h-1zM228 373h1v1h-1zM995 373h1v1h-1zM12 374h1v1h-1zM81 374h1v1h-1zM158 374h1v1h-1zM228 374h1v1h-1zM995 374h1v1h-1zM12 375h1v1h-1zM81 375h1v1h-1zM158 375h1v1h-1zM227 375h1v1h-1zM996 375h1v1h-1zM12 376h1v1h-1zM80 376h1v1h-1zM159 376h1v1h-1zM227 376h1v1h-1zM996 376h1v1h-1zM12 377h1v1h-1zM80 377h1v1h-1zM159 377h1v1h-1zM227 377h1v1h-1zM996 377h1v1h-1zM13 378h1v1h-1zM80 378h1v1h-1zM159 378h1v1h-1zM226 378h1v1h-1zM996 378h1v1h-1zM13 379h1v1h-1zM80 379h1v1h-1zM160 379h1v1h-1zM226 379h1v1h-1zM997 379h1v1h-1zM13 380h1v1h-1zM79 380h1v1h-1zM160 380h1v1h-1zM226 380h1v1h-1zM997 380h1v1h-1zM13 381h1v1h-1zM79 381h1v1h-1zM160 381h1v1h-1zM225 381h1v1h-1zM997 381h1v1h-1zM14 382h1v1h-1zM79 382h1v1h-1zM161 382h1v1h-1zM225 382h1v1h-1zM997 382h1v1h-1zM14 383h1v1h-1zM78 383h1v1h-1zM161 383h1v1h-1zM225 383h1v1h-1zM998 383h1v1h-1zM14 384h1v1h-1zM78 384h1v1h-1zM162 384h1v1h-1zM224 384h1v1h-1zM998 384h1v1h-1zM14 385h1v1h-1zM78 385h1v1h-1zM162 385h1v1h-1zM224 385h1v1h-1zM998 385h1v1h-1zM15 386h1v1h-1zM78 386h1v1h-1zM162 386h1v1h-1zM224 386h1v1h-1zM998 386h1v1h-1zM15 387h1v1h-1zM77 387h1v1h-1zM163 387h1v1h-1zM223 387h1v1h-1zM999 387h1v1h-1zM15 388h1v1h-1zM77 388h1v1h-1zM163 388h1v1h-1zM223 388h1v1h-1zM999 388h1v1h-1zM15 389h1v1h-1zM77 389h1v1h-1zM164 389h1v1h-1zM223 389h1v1h-1zM999 389h1v1h-1zM16 390h1v1h-1zM76 390h1v1h-1zM164 390h1v1h-1zM222 390h1v1h-1zM999 390h1v1h-1zM16 391h1v1h-1zM76 391h1v1h-1zM165 391h1v1h-1zM222 391h1v1h-1zM1000 391h1v1h-1zM16 392h1v1h-1zM76 392h1v1h-1zM165 392h1v1h-1zM222 392h1v1h-1zM1000 392h1v1h-1zM16 393h1v1h-1zM76 393h1v1h-1zM166 393h1v1h-1zM221 393h1v1h-1zM1000 393h1v1h-1zM17 394h1v1h-1zM75 394h1v1h-1zM166 394h1v1h-1zM221 394h1v1h-1zM1000 394h1v1h-1zM17 395h1v1h-1zM75 395h1v1h-1zM167 395h1v1h-1zM221 395h1v1h-1zM1001 395h1v1h-1zM17 396h1v1h-1zM75 396h1v1h-1zM167 396h1v1h-1zM220 396h1v1h-1zM1001 396h1v1h-1zM17 397h1v1h-1zM74 397h1v1h-1zM168 397h1v1h-1zM220 397h1v1h-1zM1001 397h1v1h-1zM18 398h1v1h-1zM74 398h1v1h-1zM168 398h1v1h-1zM220 398h1v1h-1zM1001 398h1v1h-1zM18 399h1v1h-1zM74 399h1v1h-1zM169 399h1v1h-1zM219 399h1v1h-1zM1002 399h1v1h-1zM18 400h1v1h-1zM73 400h1v1h-1zM169 400h1v1h-1zM219 400h1v1h-1zM1002 400h1v1h-1zM18 401h1v1h-1zM73 401h1v1h-1zM170 401h1v1h-1zM219 401h1v1h-1zM1002 401h1v1h-1zM19 402h1v1h-1zM73 402h1v1h-1zM170 402h1v1h-1zM218 402h1v1h-1zM1002 402h1v1h-1zM19 403h1v1h-1zM72 403h1v1h-1zM171 403h1v1h-1zM218 403h1v1h-1zM1003 403h1v1h-1zM19 404h1v1h-1zM72 404h1v1h-1zM171 404h1v1h-1zM217 404h1v1h-1zM1003 404h1v1h-1zM19 405h1v1h-1zM72 405h1v1h-1zM172 405h1v1h-1zM217 405h1v1h-1zM1003 405h1v1h-1zM20 406h1v1h-1zM71 406h1v1h-1zM173 406h1v1h-1zM217 406h1v1h-1zM1003 406h1v1h-1zM20 407h1v1h-1zM71 407h1v1h-1zM174 407h1v1h-1zM216 407h1v1h-1zM1004 407h1v1h-1zM21 408h1v1h-1zM71 408h1v1h-1zM175 408h2v1h-2zM216 408h1v1h-1zM1004 408h1v1h-1zM21 409h1v1h-1zM71 409h1v1h-1zM177 409h1v1h-1zM215 409h1v1h-1zM1004 409h1v1h-1zM22 410h1v1h-1zM70 410h1v1h-1zM178 410h1v1h-1zM215 410h1v1h-1zM1005 410h1v1h-1zM22 411h1v1h-1zM70 411h1v1h-1zM179 411h1v1h-1zM215 411h1v1h-1zM1005 411h1v1h-1zM23 412h1v1h-1zM70 412h1v1h-1zM180 412h1v1h-1zM214 412h1v1h-1zM1005 412h1v1h-1zM23 413h1v1h-1zM69 413h1v1h-1zM181 413h1v1h-1zM214 413h1v1h-1zM1006 413h1v1h-1zM23 414h1v1h-1zM69 414h1v1h-1zM182 414h1v1h-1zM213 414h1v1h-1zM1006 414h1v1h-1zM24 415h1v1h-1zM69 415h1v1h-1zM183 415h1v1h-1zM213 415h1v1h-1zM1006 415h1v1h-1zM24 416h1v1h-1zM68 416h1v1h-1zM183 416h1v1h-1zM213 416h1v1h-1zM1007 416h1v1h-1zM25 417h1v1h-1zM68 417h1v1h-1zM184 417h1v1h-1zM212 417h1v1h-1zM1007 417h1v1h-1zM25 418h1v1h-1zM68 418h1v1h-1zM185 418h1v1h-1zM212 418h1v1h-1zM1007 418h1v1h-1zM26 419h1v1h-1zM67 419h1v1h-1zM186 419h1v1h-1zM211 419h1v1h-1zM1008 419h1v1h-1zM26 420h1v1h-1zM67 420h1v1h-1zM187 420h1v1h-1zM211 420h1v1h-1zM1008 420h1v1h-1zM27 421h1v1h-1zM67 421h1v1h-1zM188 421h1v1h-1zM210 421h1v1h-1zM1008 421h1v1h-1zM27 422h1v1h-1zM66 422h1v1h-1zM189 422h1v1h-1zM209 422h1v1h-1zM1009 422h1v1h-1zM27 423h1v1h-1zM66 423h1v1h-1zM190 423h1v1h-1zM209 423h1v1h-1zM1009 423h1v1h-1zM28 424h1v1h-1zM65 424h1v1h-1zM191 424h1v1h-1zM208 424h1v1h-1zM1009 424h1v1h-1zM28 425h1v1h-1zM65 425h1v1h-1zM191 425h1v1h-1zM207 425h1v1h-1zM1010 425h1v1h-1zM29 426h1v1h-1zM65 426h1v1h-1zM192 426h1v1h-1zM206 426h1v1h-1zM1010 426h1v1h-1zM29 427h1v1h-1zM64 427h1v1h-1zM193 427h1v1h-1zM205 427h1v1h-1zM1010 427h1v1h-1zM30 428h1v1h-1zM64 428h1v1h-1zM194 428h1v1h-1zM205 428h1v1h-1zM1011 428h1v1h-1zM30 429h1v1h-1zM63 429h1v1h-1zM195 429h4v1h-4zM204 429h1v1h-1zM1011 429h1v1h-1zM31 430h1v1h-1zM63 430h1v1h-1zM199 430h5v1h-5zM1012 430h1v1h-1zM31 431h1v1h-1zM63 431h1v1h-1zM1012 431h1v1h-1zM32 432h1v1h-1zM62 432h1v1h-1zM1013 432h1v1h-1zM32 433h1v1h-1zM62 433h1v1h-1zM1013 433h1v1h-1zM33 434h1v1h-1zM61 434h1v1h-1zM1014 434h1v1h-1zM33 435h1v1h-1zM61 435h1v1h-1zM1014 435h1v1h-1zM34 436h1v1h-1zM61 436h1v1h-1zM1015 436h1v1h-1zM34 437h1v1h-1zM60 437h1v1h-1zM1016 437h1v1h-1zM35 438h1v1h-1zM60 438h1v1h-1zM1016 438h1v1h-1zM35 439h1v1h-1zM59 439h1v1h-1zM1017 439h1v1h-1zM36 440h1v1h-1zM59 440h1v1h-1zM1017 440h1v1h-1zM36 441h1v1h-1zM59 441h1v1h-1zM1018 441h1v1h-1zM37 442h1v1h-1zM58 442h1v1h-1zM1018 442h1v1h-1zM37 443h1v1h-1zM58 443h1v1h-1zM1019 443h1v1h-1zM38 444h1v1h-1zM58 444h1v1h-1zM1020 444h1v1h-1zM38 445h1v1h-1zM57 445h1v1h-1zM1020 445h1v1h-1zM39 446h1v1h-1zM57 446h1v1h-1zM1021 446h1v1h-1zM39 447h1v1h-1zM56 447h1v1h-1zM1021 447h1v1h-1zM40 448h1v1h-1zM56 448h1v1h-1zM1022 448h1v1h-1zM40 449h1v1h-1zM56 449h1v1h-1zM1022 449h1v1h-1zM41 450h1v1h-1zM55 450h1v1h-1zM1023 450h1v1h-1zM41 451h1v1h-1zM55 451h1v1h-1zM1023 451h1v1h-1zM42 452h1v1h-1zM55 452h1v1h-1zM1024 452h1v1h-1zM42 453h1v1h-1zM54 453h1v1h-1zM1024 453h1v1h-1zM43 454h1v1h-1zM54 454h1v1h-1zM1025 454h1v1h-1zM43 455h1v1h-1zM54 455h1v1h-1zM1025 455h1v1h-1zM44 456h1v1h-1zM53 456h1v1h-1zM1026 456h1v1h-1zM45 457h1v1h-1zM53 457h1v1h-1zM1026 457h1v1h-1zM46 458h1v1h-1zM52 458h1v1h-1zM1027 458h1v1h-1zM47 459h2v1h-2zM52 459h1v1h-1zM1027 459h1v1h-1zM49 460h1v1h-1zM52 460h1v1h-1zM1028 460h1v1h-1zM50 461h2v1h-2zM1029 461h1v1h-1zM51 462h1v1h-1zM1030 462h1v1h-1zM1031 463h1v1h-1zM1031 464h1v1h-1zM1032 465h1v1h-1zM1033 466h1v1h-1zM1034 467h1v1h-1zM1035 468h1v1h-1zM1036 469h1v1h-1zM1037 470h1v1h-1zM1037 471h1v1h-1zM1038 472h1v1h-1zM1039 473h1v1h-1zM1040 474h1v1h-1zM1041 475h1v1h-1zM1041 476h1v1h-1zM1042 477h1v1h-1zM1043 478h1v1h-1zM1043 479h1v1h-1zM1044 480h1v1h-1zM1044 481h1v1h-1zM1045 482h1v1h-1zM1045 483h1v1h-1zM1046 484h1v1h-1zM1046 485h1v1h-1zM1047 486h1v1h-1zM1047 487h1v1h-1zM1048 488h1v1h-1zM1048 489h1v1h-1zM1049 490h1v1h-1zM1049 491h1v1h-1zM1050 492h1v1h-1zM1050 493h1v1h-1zM1051 494h1v1h-1zM1051 495h1v1h-1zM1052 496h1v1h-1zM1053 497h1v1h-1zM1053 498h1v1h-1zM1054 499h1v1h-1zM1055 500h1v1h-1zM1056 501h1v1h-1zM1057 502h1v1h-1zM1057 503h1v1h-1zM1058 504h1v1h-1zM1081 504h6v1h-6zM1059 505h4v1h-4zM1077 505h4v1h-4zM1087 505h5v1h-5zM1063 506h14v1h-14zM1092 506h2v1h-2zM1094 507h2v1h-2zM1105 507h10v1h-10zM1096 508h2v1h-2zM1101 508h4v1h-4zM1098 509h3v1h-3z" fill="#0000cd" shape-rendering="crispEdges"/>
<rect x="957" y="330" width="229" height="5" fill="#f73636" shape-rendering="crispEdges"/>
<rect x="960" y="413" width="223" height="5" fill="#99cc00" shape-rendering="crispEdges"/>
</g>
<polygon points="1129,26 1138,26 1133.5,31" fill="#c0c0c0"/>
<g clip-path="url(#macdclip)" shape-rendering="crispEdges">
<rect x="3" y="606" width="1" height="30" fill="#c0c0c0"/>
<rect x="11" y="606" width="1" height="36" fill="#c0c0c0"/>
<rect x="19" y="606" width="1" height="42" fill="#c0c0c0"/>
<rect x="27" y="606" width="1" height="45" fill="#c0c0c0"/>
<rect x="35" y="606" width="1" height="46" fill="#c0c0c0"/>
<rect x="43" y="606" width="1" height="46" fill="#c0c0c0"/>
<rect x="51" y="606" width="1" height="41" fill="#c0c0c0"/>
<rect x="59" y="606" width="1" height="31" fill="#c0c0c0"/>
<rect x="67" y="606" width="1" height="25" fill="#c0c0c0"/>
<rect x="75" y="606" width="1" height="19" fill="#c0c0c0"/>
<rect x="83" y="606" width="1" height="14" fill="#c0c0c0"/>
<rect x="91" y="606" width="1" height="13" fill="#c0c0c0"/>
<rect x="99" y="606" width="1" height="10" fill="#c0c0c0"/>
<rect x="107" y="606" width="1" height="6" fill="#c0c0c0"/>
<rect x="115" y="606" width="1" height="6" fill="#c0c0c0"/>
<rect x="123" y="606" width="1" height="6" fill="#c0c0c0"/>
<rect x="131" y="606" width="1" height="6" fill="#c0c0c0"/>
<rect x="139" y="606" width="1" height="7" fill="#c0c0c0"/>
<rect x="147" y="606" width="1" height="9" fill="#c0c0c0"/>
<rect x="155" y="606" width="1" height="9" fill="#c0c0c0"/>
<rect x="163" y="606" width="1" height="14" fill="#c0c0c0"/>
<rect x="171" y="606" width="1" height="18" fill="#c0c0c0"/>
<rect x="179" y="606" width="1" height="17" fill="#c0c0c0"/>
<rect x="187" y="606" width="1" height="18" fill="#c0c0c0"/>
<rect x="195" y="606" width="1" height="19" fill="#c0c0c0"/>
<rect x="203" y="606" width="1" height="19" fill="#c0c0c0"/>
<rect x="211" y="606" width="1" height="11" fill="#c0c0c0"/>
<rect x="219" y="606" width="1" height="6" fill="#c0c0c0"/>
<rect x="235" y="600" width="1" height="7" fill="#c0c0c0"/>
<rect x="243" y="589" width="1" height="18" fill="#c0c0c0"/>
<rect x="251" y="581" width="1" height="26" fill="#c0c0c0"/>
<rect x="259" y="577" width="1" height="30" fill="#c0c0c0"/>
<rect x="267" y="574" width="1" height="33" fill="#c0c0c0"/>
<rect x="275" y="573" width="1" height="34" fill="#c0c0c0"/>
<rect x="283" y="575" width="1" height="32" fill="#c0c0c0"/>
<rect x="291" y="580" width="1" height="27" fill="#c0c0c0"/>
<rect x="299" y="583" width="1" height="24" fill="#c0c0c0"/>
<rect x="307" y="584" width="1" height="23" fill="#c0c0c0"/>
<rect x="315" y="586" width="1" height="21" fill="#c0c0c0"/>
<rect x="323" y="587" width="1" height="20" fill="#c0c0c0"/>
<rect x="331" y="589" width="1" height="18" fill="#c0c0c0"/>
<rect x="339" y="593" width="1" height="14" fill="#c0c0c0"/>
<rect x="347" y="592" width="1" height="15" fill="#c0c0c0"/>
<rect x="355" y="589" width="1" height="18" fill="#c0c0c0"/>
<rect x="363" y="586" width="1" height="21" fill="#c0c0c0"/>
<rect x="371" y="585" width="1" height="22" fill="#c0c0c0"/>
<rect x="379" y="586" width="1" height="21" fill="#c0c0c0"/>
<rect x="387" y="585" width="1" height="22" fill="#c0c0c0"/>
<rect x="395" y="584" width="1" height="23" fill="#c0c0c0"/>
<rect x="403" y="587" width="1" height="20" fill="#c0c0c0"/>
<rect x="411" y="590" width="1" height="17" fill="#c0c0c0"/>
<rect x="419" y="595" width="1" height="12" fill="#c0c0c0"/>
<rect x="427" y="597" width="1" height="10" fill="#c0c0c0"/>
<rect x="435" y="599" width="1" height="8" fill="#c0c0c0"/>
<rect x="443" y="599" width="1" height="8" fill="#c0c0c0"/>
<rect x="451" y="598" width="1" height="9" fill="#c0c0c0"/>
<rect x="459" y="598" width="1" height="9" fill="#c0c0c0"/>
<rect x="467" y="601" width="1" height="6" fill="#c0c0c0"/>
<rect x="475" y="603" width="1" height="4" fill="#c0c0c0"/>
<rect x="491" y="604" width="1" height="3" fill="#c0c0c0"/>
<rect x="499" y="605" width="1" height="2" fill="#c0c0c0"/>
<rect x="515" y="605" width="1" height="2" fill="#c0c0c0"/>
<rect x="523" y="605" width="1" height="2" fill="#c0c0c0"/>
<rect x="531" y="604" width="1" height="3" fill="#c0c0c0"/>
<rect x="539" y="604" width="1" height="3" fill="#c0c0c0"/>
<rect x="547" y="603" width="1" height="4" fill="#c0c0c0"/>
<rect x="555" y="604" width="1" height="3" fill="#c0c0c0"/>
<rect x="563" y="600" width="1" height="7" fill="#c0c0c0"/>
<rect x="571" y="594" width="1" height="13" fill="#c0c0c0"/>
<rect x="579" y="589" width="1" height="18" fill="#c0c0c0"/>
<rect x="587" y="587" width="1" height="20" fill="#c0c0c0"/>
<rect x="595" y="586" width="1" height="21" fill="#c0c0c0"/>
<rect x="603" y="585" width="1" height="22" fill="#c0c0c0"/>
<rect x="611" y="589" width="1" height="18" fill="#c0c0c0"/>
<rect x="619" y="589" width="1" height="18" fill="#c0c0c0"/>
<rect x="627" y="588" width="1" height="19" fill="#c0c0c0"/>
<rect x="635" y="589" width="1" height="18" fill="#c0c0c0"/>
<rect x="643" y="588" width="1" height="19" fill="#c0c0c0"/>
<rect x="651" y="589" width="1" height="18" fill="#c0c0c0"/>
<rect x="659" y="588" width="1" height="19" fill="#c0c0c0"/>
<rect x="667" y="588" width="1" height="19" fill="#c0c0c0"/>
<rect x="675" y="589" width="1" height="18" fill="#c0c0c0"/>
<rect x="683" y="591" width="1" height="16" fill="#c0c0c0"/>
<rect x="691" y="593" width="1" height="14" fill="#c0c0c0"/>
<rect x="699" y="592" width="1" height="15" fill="#c0c0c0"/>
<rect x="707" y="592" width="1" height="15" fill="#c0c0c0"/>
<rect x="715" y="594" width="1" height="13" fill="#c0c0c0"/>
<rect x="723" y="594" width="1" height="13" fill="#c0c0c0"/>
<rect x="731" y="596" width="1" height="11" fill="#c0c0c0"/>
<rect x="739" y="597" width="1" height="10" fill="#c0c0c0"/>
<rect x="747" y="599" width="1" height="8" fill="#c0c0c0"/>
<rect x="755" y="602" width="1" height="5" fill="#c0c0c0"/>
<rect x="763" y="602" width="1" height="5" fill="#c0c0c0"/>
<rect x="771" y="601" width="1" height="6" fill="#c0c0c0"/>
<rect x="779" y="601" width="1" height="6" fill="#c0c0c0"/>
<rect x="787" y="602" width="1" height="5" fill="#c0c0c0"/>
<rect x="795" y="603" width="1" height="4" fill="#c0c0c0"/>
<rect x="803" y="601" width="1" height="6" fill="#c0c0c0"/>
<rect x="811" y="597" width="1" height="10" fill="#c0c0c0"/>
<rect x="819" y="594" width="1" height="13" fill="#c0c0c0"/>
<rect x="827" y="592" width="1" height="15" fill="#c0c0c0"/>
<rect x="835" y="591" width="1" height="16" fill="#c0c0c0"/>
<rect x="843" y="594" width="1" height="13" fill="#c0c0c0"/>
<rect x="851" y="600" width="1" height="7" fill="#c0c0c0"/>
<rect x="859" y="603" width="1" height="4" fill="#c0c0c0"/>
<rect x="875" y="606" width="1" height="11" fill="#c0c0c0"/>
<rect x="883" y="606" width="1" height="19" fill="#c0c0c0"/>
<rect x="891" y="606" width="1" height="25" fill="#c0c0c0"/>
<rect x="899" y="606" width="1" height="28" fill="#c0c0c0"/>
<rect x="907" y="606" width="1" height="27" fill="#c0c0c0"/>
<rect x="915" y="606" width="1" height="27" fill="#c0c0c0"/>
<rect x="923" y="606" width="1" height="21" fill="#c0c0c0"/>
<rect x="931" y="606" width="1" height="17" fill="#c0c0c0"/>
<rect x="939" y="606" width="1" height="13" fill="#c0c0c0"/>
<rect x="947" y="606" width="1" height="12" fill="#c0c0c0"/>
<rect x="955" y="606" width="1" height="17" fill="#c0c0c0"/>
<rect x="963" y="606" width="1" height="26" fill="#c0c0c0"/>
<rect x="971" y="606" width="1" height="31" fill="#c0c0c0"/>
<rect x="979" y="606" width="1" height="35" fill="#c0c0c0"/>
<rect x="987" y="606" width="1" height="38" fill="#c0c0c0"/>
<rect x="995" y="606" width="1" height="41" fill="#c0c0c0"/>
<rect x="1003" y="606" width="1" height="46" fill="#c0c0c0"/>
<rect x="1011" y="606" width="1" height="51" fill="#c0c0c0"/>
<rect x="1019" y="606" width="1" height="55" fill="#c0c0c0"/>
<rect x="1027" y="606" width="1" height="56" fill="#c0c0c0"/>
<rect x="1035" y="606" width="1" height="55" fill="#c0c0c0"/>
<rect x="1043" y="606" width="1" height="55" fill="#c0c0c0"/>
<rect x="1051" y="606" width="1" height="57" fill="#c0c0c0"/>
<rect x="1059" y="606" width="1" height="58" fill="#c0c0c0"/>
<rect x="1067" y="606" width="1" height="56" fill="#c0c0c0"/>
<rect x="1075" y="606" width="1" height="55" fill="#c0c0c0"/>
<rect x="1083" y="606" width="1" height="51" fill="#c0c0c0"/>
<rect x="1091" y="606" width="1" height="47" fill="#c0c0c0"/>
<rect x="1099" y="606" width="1" height="46" fill="#c0c0c0"/>
<rect x="1107" y="606" width="1" height="45" fill="#c0c0c0"/>
<rect x="1115" y="606" width="1" height="44" fill="#c0c0c0"/>
<path d="M312 578h3v1h-3zM318 578h2v1h-2zM306 579h3v1h-3zM320 579h1v1h-1zM324 579h2v1h-2zM300 580h3v1h-3zM326 580h1v1h-1zM296 581h1v1h-1zM330 581h3v1h-3zM294 582h2v1h-2zM336 582h3v1h-3zM342 583h2v1h-2zM290 584h1v1h-1zM344 584h1v1h-1zM288 585h2v1h-2zM348 585h3v1h-3zM354 586h3v1h-3zM408 586h3v1h-3zM414 586h3v1h-3zM420 586h1v1h-1zM360 587h3v1h-3zM366 587h3v1h-3zM372 587h3v1h-3zM384 587h3v1h-3zM390 587h1v1h-1zM402 587h3v1h-3zM421 587h2v1h-2zM284 588h1v1h-1zM378 588h3v1h-3zM391 588h2v1h-2zM396 588h3v1h-3zM426 588h3v1h-3zM636 588h3v1h-3zM642 588h3v1h-3zM648 588h3v1h-3zM654 588h3v1h-3zM660 588h3v1h-3zM666 588h3v1h-3zM672 588h3v1h-3zM678 588h3v1h-3zM684 588h3v1h-3zM690 588h3v1h-3zM282 589h2v1h-2zM432 589h1v1h-1zM630 589h3v1h-3zM696 589h1v1h-1zM433 590h2v1h-2zM438 590h3v1h-3zM444 590h3v1h-3zM624 590h3v1h-3zM697 590h2v1h-2zM702 590h3v1h-3zM708 590h3v1h-3zM714 590h3v1h-3zM720 590h3v1h-3zM726 590h1v1h-1zM450 591h3v1h-3zM618 591h3v1h-3zM727 591h2v1h-2zM732 591h3v1h-3zM277 592h2v1h-2zM456 592h1v1h-1zM612 592h3v1h-3zM738 592h3v1h-3zM276 593h1v1h-1zM457 593h2v1h-2zM607 593h2v1h-2zM744 593h3v1h-3zM750 593h1v1h-1zM462 594h3v1h-3zM606 594h1v1h-1zM751 594h2v1h-2zM756 594h3v1h-3zM271 595h2v1h-2zM468 595h1v1h-1zM601 595h2v1h-2zM762 595h3v1h-3zM270 596h1v1h-1zM469 596h2v1h-2zM600 596h1v1h-1zM768 596h3v1h-3zM774 596h1v1h-1zM840 596h3v1h-3zM846 596h3v1h-3zM852 596h3v1h-3zM858 596h3v1h-3zM474 597h3v1h-3zM594 597h3v1h-3zM775 597h2v1h-2zM780 597h1v1h-1zM834 597h3v1h-3zM864 597h3v1h-3zM480 598h3v1h-3zM589 598h2v1h-2zM781 598h2v1h-2zM829 598h2v1h-2zM870 598h3v1h-3zM266 599h1v1h-1zM486 599h3v1h-3zM588 599h1v1h-1zM786 599h3v1h-3zM823 599h2v1h-2zM828 599h1v1h-1zM876 599h1v1h-1zM264 600h2v1h-2zM492 600h3v1h-3zM498 600h3v1h-3zM582 600h3v1h-3zM792 600h3v1h-3zM798 600h3v1h-3zM804 600h3v1h-3zM810 600h3v1h-3zM816 600h3v1h-3zM822 600h1v1h-1zM877 600h2v1h-2zM504 601h3v1h-3zM510 601h1v1h-1zM576 601h3v1h-3zM882 601h2v1h-2zM511 602h2v1h-2zM516 602h1v1h-1zM570 602h3v1h-3zM884 602h1v1h-1zM517 603h2v1h-2zM565 603h2v1h-2zM260 604h1v1h-1zM522 604h3v1h-3zM528 604h3v1h-3zM534 604h3v1h-3zM540 604h3v1h-3zM546 604h3v1h-3zM552 604h3v1h-3zM558 604h3v1h-3zM564 604h1v1h-1zM888 604h1v1h-1zM258 605h2v1h-2zM889 605h2v1h-2zM254 608h1v1h-1zM894 608h1v1h-1zM253 609h1v1h-1zM895 609h2v1h-2zM252 610h1v1h-1zM248 611h1v1h-1zM246 612h2v1h-2zM900 612h1v1h-1zM901 613h2v1h-2zM242 614h1v1h-1zM145 615h2v1h-2zM150 615h3v1h-3zM156 615h3v1h-3zM240 615h2v1h-2zM144 616h1v1h-1zM162 616h3v1h-3zM168 616h3v1h-3zM906 616h1v1h-1zM138 617h3v1h-3zM174 617h3v1h-3zM907 617h2v1h-2zM132 618h3v1h-3zM180 618h3v1h-3zM186 618h3v1h-3zM234 618h3v1h-3zM912 618h1v1h-1zM126 619h3v1h-3zM192 619h3v1h-3zM230 619h1v1h-1zM913 619h2v1h-2zM198 620h3v1h-3zM224 620h1v1h-1zM228 620h2v1h-2zM121 621h2v1h-2zM204 621h3v1h-3zM210 621h3v1h-3zM216 621h3v1h-3zM222 621h2v1h-2zM918 621h3v1h-3zM120 622h1v1h-1zM924 623h2v1h-2zM116 624h1v1h-1zM926 624h1v1h-1zM115 625h1v1h-1zM930 625h3v1h-3zM114 626h1v1h-1zM936 626h3v1h-3zM942 627h3v1h-3zM948 627h3v1h-3zM954 627h3v1h-3zM960 627h3v1h-3zM966 627h3v1h-3zM110 628h1v1h-1zM972 628h3v1h-3zM978 628h3v1h-3zM984 628h1v1h-1zM108 629h2v1h-2zM985 629h2v1h-2zM990 630h3v1h-3zM6 631h1v1h-1zM104 631h1v1h-1zM7 632h2v1h-2zM12 632h1v1h-1zM102 632h2v1h-2zM996 632h2v1h-2zM13 633h2v1h-2zM998 633h1v1h-1zM18 634h3v1h-3zM98 634h1v1h-1zM1002 634h1v1h-1zM24 635h1v1h-1zM96 635h2v1h-2zM1003 635h2v1h-2zM25 636h2v1h-2zM30 637h1v1h-1zM92 637h1v1h-1zM1008 637h2v1h-2zM31 638h2v1h-2zM90 638h2v1h-2zM1010 638h1v1h-1zM36 639h1v1h-1zM85 639h2v1h-2zM37 640h2v1h-2zM84 640h1v1h-1zM1014 640h2v1h-2zM79 641h2v1h-2zM1016 641h1v1h-1zM42 642h3v1h-3zM78 642h1v1h-1zM48 643h1v1h-1zM72 643h3v1h-3zM1020 643h2v1h-2zM49 644h2v1h-2zM54 644h3v1h-3zM60 644h3v1h-3zM66 644h3v1h-3zM1022 644h1v1h-1zM1026 646h1v1h-1zM1027 647h2v1h-2zM1032 649h1v1h-1zM1033 650h2v1h-2zM1038 652h3v1h-3zM1044 654h2v1h-2zM1046 655h1v1h-1zM1050 656h1v1h-1zM1051 657h2v1h-2zM1056 658h1v1h-1zM1105 658h2v1h-2zM1110 658h3v1h-3zM1057 659h2v1h-2zM1099 659h2v1h-2zM1104 659h1v1h-1zM1062 660h3v1h-3zM1068 660h3v1h-3zM1074 660h1v1h-1zM1092 660h3v1h-3zM1098 660h1v1h-1zM1075 661h2v1h-2zM1080 661h3v1h-3zM1086 661h3v1h-3z" fill="#ffffff"/>
<path d="M315 578h3v1h-3zM304 579h2v1h-2zM309 579h3v1h-3zM321 579h3v1h-3zM299 580h1v1h-1zM303 580h1v1h-1zM327 580h3v1h-3zM297 581h2v1h-2zM333 581h3v1h-3zM339 582h3v1h-3zM292 583h2v1h-2zM291 584h1v1h-1zM345 584h2v1h-2zM347 585h1v1h-1zM351 585h1v1h-1zM287 586h1v1h-1zM352 586h2v1h-2zM357 586h3v1h-3zM407 586h1v1h-1zM411 586h3v1h-3zM417 586h3v1h-3zM285 587h2v1h-2zM363 587h3v1h-3zM369 587h3v1h-3zM383 587h1v1h-1zM387 587h3v1h-3zM399 587h3v1h-3zM405 587h2v1h-2zM423 587h2v1h-2zM375 588h3v1h-3zM381 588h2v1h-2zM393 588h3v1h-3zM425 588h1v1h-1zM633 588h3v1h-3zM639 588h3v1h-3zM645 588h3v1h-3zM651 588h3v1h-3zM657 588h3v1h-3zM663 588h3v1h-3zM669 588h3v1h-3zM675 588h3v1h-3zM681 588h3v1h-3zM687 588h3v1h-3zM429 589h3v1h-3zM629 589h1v1h-1zM693 589h3v1h-3zM280 590h2v1h-2zM435 590h3v1h-3zM441 590h3v1h-3zM623 590h1v1h-1zM627 590h2v1h-2zM699 590h3v1h-3zM705 590h3v1h-3zM711 590h3v1h-3zM717 590h3v1h-3zM723 590h3v1h-3zM279 591h1v1h-1zM447 591h3v1h-3zM615 591h3v1h-3zM621 591h2v1h-2zM729 591h3v1h-3zM453 592h3v1h-3zM610 592h2v1h-2zM735 592h3v1h-3zM741 592h2v1h-2zM275 593h1v1h-1zM459 593h2v1h-2zM609 593h1v1h-1zM743 593h1v1h-1zM747 593h3v1h-3zM273 594h2v1h-2zM461 594h1v1h-1zM605 594h1v1h-1zM753 594h3v1h-3zM465 595h3v1h-3zM603 595h2v1h-2zM759 595h3v1h-3zM765 595h2v1h-2zM269 596h1v1h-1zM471 596h2v1h-2zM597 596h3v1h-3zM767 596h1v1h-1zM771 596h3v1h-3zM839 596h1v1h-1zM843 596h3v1h-3zM849 596h3v1h-3zM855 596h3v1h-3zM861 596h2v1h-2zM268 597h1v1h-1zM473 597h1v1h-1zM477 597h2v1h-2zM593 597h1v1h-1zM777 597h3v1h-3zM833 597h1v1h-1zM837 597h2v1h-2zM863 597h1v1h-1zM867 597h2v1h-2zM267 598h1v1h-1zM479 598h1v1h-1zM483 598h2v1h-2zM591 598h2v1h-2zM783 598h2v1h-2zM831 598h2v1h-2zM869 598h1v1h-1zM485 599h1v1h-1zM585 599h3v1h-3zM785 599h1v1h-1zM789 599h2v1h-2zM825 599h3v1h-3zM873 599h3v1h-3zM489 600h3v1h-3zM495 600h3v1h-3zM501 600h2v1h-2zM581 600h1v1h-1zM791 600h1v1h-1zM795 600h3v1h-3zM801 600h3v1h-3zM807 600h3v1h-3zM813 600h3v1h-3zM819 600h3v1h-3zM879 600h2v1h-2zM263 601h1v1h-1zM503 601h1v1h-1zM507 601h3v1h-3zM575 601h1v1h-1zM579 601h2v1h-2zM881 601h1v1h-1zM262 602h1v1h-1zM513 602h3v1h-3zM569 602h1v1h-1zM573 602h2v1h-2zM885 602h1v1h-1zM261 603h1v1h-1zM519 603h2v1h-2zM567 603h2v1h-2zM886 603h1v1h-1zM521 604h1v1h-1zM525 604h3v1h-3zM531 604h3v1h-3zM537 604h3v1h-3zM543 604h3v1h-3zM549 604h3v1h-3zM555 604h3v1h-3zM561 604h3v1h-3zM887 604h1v1h-1zM257 606h1v1h-1zM891 606h1v1h-1zM256 607h1v1h-1zM892 607h2v1h-2zM255 608h1v1h-1zM251 610h1v1h-1zM897 610h2v1h-2zM249 611h2v1h-2zM899 611h1v1h-1zM244 613h2v1h-2zM243 614h1v1h-1zM903 614h1v1h-1zM147 615h3v1h-3zM153 615h3v1h-3zM904 615h1v1h-1zM141 616h3v1h-3zM159 616h3v1h-3zM165 616h3v1h-3zM171 616h2v1h-2zM239 616h1v1h-1zM905 616h1v1h-1zM135 617h3v1h-3zM173 617h1v1h-1zM237 617h2v1h-2zM129 618h3v1h-3zM177 618h3v1h-3zM183 618h3v1h-3zM189 618h3v1h-3zM909 618h3v1h-3zM125 619h1v1h-1zM195 619h3v1h-3zM231 619h3v1h-3zM123 620h2v1h-2zM201 620h1v1h-1zM225 620h3v1h-3zM915 620h3v1h-3zM202 621h2v1h-2zM207 621h3v1h-3zM213 621h3v1h-3zM219 621h3v1h-3zM119 622h1v1h-1zM921 622h2v1h-2zM118 623h1v1h-1zM923 623h1v1h-1zM117 624h1v1h-1zM927 624h2v1h-2zM929 625h1v1h-1zM113 626h1v1h-1zM933 626h3v1h-3zM111 627h2v1h-2zM939 627h3v1h-3zM945 627h3v1h-3zM951 627h3v1h-3zM957 627h3v1h-3zM963 627h3v1h-3zM969 627h2v1h-2zM971 628h1v1h-1zM975 628h3v1h-3zM981 628h3v1h-3zM987 629h2v1h-2zM106 630h2v1h-2zM989 630h1v1h-1zM3 631h3v1h-3zM105 631h1v1h-1zM993 631h2v1h-2zM9 632h3v1h-3zM995 632h1v1h-1zM15 633h2v1h-2zM100 633h2v1h-2zM999 633h2v1h-2zM17 634h1v1h-1zM99 634h1v1h-1zM1001 634h1v1h-1zM21 635h3v1h-3zM1005 635h1v1h-1zM27 636h2v1h-2zM94 636h2v1h-2zM1006 636h2v1h-2zM29 637h1v1h-1zM93 637h1v1h-1zM33 638h1v1h-1zM89 638h1v1h-1zM1011 638h1v1h-1zM34 639h2v1h-2zM87 639h2v1h-2zM1012 639h2v1h-2zM82 640h2v1h-2zM39 641h3v1h-3zM81 641h1v1h-1zM1017 641h1v1h-1zM77 642h1v1h-1zM1018 642h2v1h-2zM45 643h3v1h-3zM71 643h1v1h-1zM75 643h2v1h-2zM51 644h3v1h-3zM57 644h3v1h-3zM63 644h3v1h-3zM69 644h2v1h-2zM1023 644h1v1h-1zM1024 645h2v1h-2zM1029 648h2v1h-2zM1031 649h1v1h-1zM1035 651h3v1h-3zM1041 653h2v1h-2zM1043 654h1v1h-1zM1047 655h2v1h-2zM1049 656h1v1h-1zM1053 657h1v1h-1zM1054 658h2v1h-2zM1107 658h3v1h-3zM1113 658h2v1h-2zM1059 659h2v1h-2zM1101 659h3v1h-3zM1061 660h1v1h-1zM1065 660h3v1h-3zM1071 660h3v1h-3zM1095 660h3v1h-3zM1077 661h3v1h-3zM1083 661h3v1h-3zM1089 661h3v1h-3z" fill="#ff0000"/>
</g>
<g shape-rendering="crispEdges" fill="#000">
<rect x="1419" y="568" width="2" height="1"/>
<rect x="1419" y="606" width="2" height="1"/>
<rect x="1419" y="668" width="2" height="1"/>
</g>
<text x="1421.5" y="577" font-size="9.5" fill="#000" font-weight="normal" text-anchor="start" textLength="40" lengthAdjust="spacingAndGlyphs" stroke="#000" stroke-width="0.2">0.005484</text>
<text x="1421.5" y="610" font-size="9.5" fill="#000" font-weight="normal" text-anchor="start" textLength="19" lengthAdjust="spacingAndGlyphs" stroke="#000" stroke-width="0.2">0.00</text>
<text x="1421.5" y="666" font-size="9.5" fill="#000" font-weight="normal" text-anchor="start" textLength="39" lengthAdjust="spacingAndGlyphs" stroke="#000" stroke-width="0.2">-0.00897</text>
<text x="7" y="579" font-size="10" fill="#000" font-weight="normal" text-anchor="start" textLength="154" lengthAdjust="spacingAndGlyphs" stroke="#000" stroke-width="0.15">MACD(12,26,9) -0.006365 -0.007316</text>
<g clip-path="url(#rsiclip)">
<g shape-rendering="crispEdges">
<line x1="4" y1="711.5" x2="1418" y2="711.5" stroke="#c0c0c0" stroke-width="1" stroke-dasharray="3 3"/>
<line x1="4" y1="762.5" x2="1418" y2="762.5" stroke="#c0c0c0" stroke-width="1" stroke-dasharray="3 3"/>
</g>
<path d="M243 715h9v1h-9zM242 716h1v1h-1zM252 716h2v1h-2zM241 717h1v1h-1zM254 717h1v1h-1zM239 718h2v1h-2zM255 718h2v1h-2zM571 718h2v1h-2zM238 719h1v1h-1zM257 719h2v1h-2zM263 719h5v1h-5zM570 719h1v1h-1zM573 719h4v1h-4zM237 720h1v1h-1zM259 720h4v1h-4zM268 720h2v1h-2zM569 720h1v1h-1zM577 720h3v1h-3zM818 720h3v1h-3zM236 721h1v1h-1zM270 721h2v1h-2zM568 721h1v1h-1zM580 721h2v1h-2zM815 721h3v1h-3zM821 721h2v1h-2zM234 722h2v1h-2zM272 722h2v1h-2zM361 722h3v1h-3zM567 722h1v1h-1zM582 722h2v1h-2zM813 722h2v1h-2zM823 722h3v1h-3zM232 723h2v1h-2zM274 723h2v1h-2zM357 723h4v1h-4zM364 723h2v1h-2zM394 723h2v1h-2zM566 723h1v1h-1zM584 723h2v1h-2zM591 723h6v1h-6zM810 723h3v1h-3zM826 723h10v1h-10zM230 724h2v1h-2zM276 724h1v1h-1zM354 724h3v1h-3zM366 724h2v1h-2zM391 724h3v1h-3zM396 724h1v1h-1zM565 724h1v1h-1zM586 724h5v1h-5zM597 724h4v1h-4zM808 724h2v1h-2zM835 724h1v1h-1zM228 725h2v1h-2zM277 725h2v1h-2zM352 725h2v1h-2zM368 725h2v1h-2zM389 725h2v1h-2zM396 725h1v1h-1zM564 725h1v1h-1zM601 725h3v1h-3zM627 725h1v1h-1zM806 725h2v1h-2zM836 725h1v1h-1zM226 726h2v1h-2zM279 726h1v1h-1zM350 726h2v1h-2zM370 726h2v1h-2zM386 726h3v1h-3zM397 726h1v1h-1zM563 726h1v1h-1zM604 726h1v1h-1zM625 726h2v1h-2zM628 726h1v1h-1zM804 726h2v1h-2zM836 726h1v1h-1zM223 727h3v1h-3zM280 727h1v1h-1zM348 727h2v1h-2zM372 727h2v1h-2zM384 727h2v1h-2zM397 727h1v1h-1zM562 727h1v1h-1zM604 727h1v1h-1zM623 727h2v1h-2zM629 727h1v1h-1zM663 727h8v1h-8zM803 727h1v1h-1zM837 727h1v1h-1zM211 728h4v1h-4zM221 728h2v1h-2zM281 728h2v1h-2zM347 728h1v1h-1zM374 728h2v1h-2zM382 728h2v1h-2zM398 728h1v1h-1zM562 728h1v1h-1zM605 728h1v1h-1zM622 728h1v1h-1zM630 728h1v1h-1zM643 728h1v1h-1zM658 728h5v1h-5zM671 728h5v1h-5zM699 728h2v1h-2zM802 728h1v1h-1zM837 728h1v1h-1zM59 729h1v1h-1zM211 729h1v1h-1zM215 729h6v1h-6zM283 729h1v1h-1zM346 729h1v1h-1zM376 729h2v1h-2zM380 729h2v1h-2zM399 729h1v1h-1zM561 729h1v1h-1zM606 729h1v1h-1zM620 729h2v1h-2zM631 729h1v1h-1zM641 729h2v1h-2zM644 729h2v1h-2zM656 729h2v1h-2zM676 729h1v1h-1zM697 729h2v1h-2zM701 729h2v1h-2zM801 729h1v1h-1zM838 729h1v1h-1zM58 730h1v1h-1zM60 730h2v1h-2zM82 730h2v1h-2zM210 730h1v1h-1zM284 730h1v1h-1zM346 730h1v1h-1zM378 730h2v1h-2zM399 730h1v1h-1zM560 730h1v1h-1zM606 730h1v1h-1zM619 730h1v1h-1zM632 730h1v1h-1zM639 730h2v1h-2zM646 730h2v1h-2zM654 730h2v1h-2zM677 730h1v1h-1zM695 730h2v1h-2zM703 730h3v1h-3zM771 730h1v1h-1zM800 730h1v1h-1zM838 730h1v1h-1zM58 731h1v1h-1zM62 731h1v1h-1zM79 731h3v1h-3zM84 731h1v1h-1zM210 731h1v1h-1zM285 731h1v1h-1zM345 731h1v1h-1zM400 731h1v1h-1zM450 731h3v1h-3zM560 731h1v1h-1zM607 731h1v1h-1zM618 731h1v1h-1zM633 731h1v1h-1zM638 731h1v1h-1zM648 731h2v1h-2zM652 731h2v1h-2zM678 731h1v1h-1zM694 731h1v1h-1zM706 731h3v1h-3zM770 731h1v1h-1zM772 731h1v1h-1zM799 731h1v1h-1zM839 731h1v1h-1zM57 732h1v1h-1zM63 732h2v1h-2zM77 732h2v1h-2zM85 732h1v1h-1zM106 732h2v1h-2zM209 732h1v1h-1zM286 732h1v1h-1zM303 732h22v1h-22zM344 732h1v1h-1zM401 732h1v1h-1zM448 732h2v1h-2zM453 732h4v1h-4zM491 732h1v1h-1zM543 732h5v1h-5zM559 732h1v1h-1zM608 732h1v1h-1zM617 732h1v1h-1zM634 732h1v1h-1zM636 732h2v1h-2zM650 732h2v1h-2zM679 732h1v1h-1zM692 732h2v1h-2zM709 732h2v1h-2zM721 732h4v1h-4zM769 732h1v1h-1zM773 732h2v1h-2zM799 732h1v1h-1zM839 732h1v1h-1zM57 733h1v1h-1zM65 733h2v1h-2zM71 733h6v1h-6zM85 733h1v1h-1zM104 733h2v1h-2zM108 733h2v1h-2zM209 733h1v1h-1zM287 733h2v1h-2zM298 733h5v1h-5zM325 733h2v1h-2zM344 733h1v1h-1zM401 733h1v1h-1zM446 733h2v1h-2zM457 733h3v1h-3zM490 733h1v1h-1zM492 733h1v1h-1zM515 733h2v1h-2zM538 733h5v1h-5zM548 733h1v1h-1zM558 733h1v1h-1zM608 733h1v1h-1zM615 733h2v1h-2zM635 733h1v1h-1zM679 733h1v1h-1zM690 733h2v1h-2zM711 733h3v1h-3zM717 733h4v1h-4zM725 733h2v1h-2zM767 733h2v1h-2zM775 733h1v1h-1zM798 733h1v1h-1zM840 733h1v1h-1zM923 733h4v1h-4zM56 734h1v1h-1zM67 734h4v1h-4zM86 734h1v1h-1zM102 734h2v1h-2zM110 734h1v1h-1zM208 734h1v1h-1zM289 734h1v1h-1zM295 734h3v1h-3zM327 734h3v1h-3zM343 734h1v1h-1zM402 734h1v1h-1zM444 734h2v1h-2zM460 734h1v1h-1zM489 734h1v1h-1zM493 734h1v1h-1zM513 734h2v1h-2zM517 734h4v1h-4zM535 734h3v1h-3zM549 734h2v1h-2zM558 734h1v1h-1zM609 734h1v1h-1zM614 734h1v1h-1zM680 734h1v1h-1zM688 734h2v1h-2zM714 734h3v1h-3zM727 734h3v1h-3zM735 734h5v1h-5zM766 734h1v1h-1zM776 734h1v1h-1zM797 734h1v1h-1zM840 734h1v1h-1zM922 734h1v1h-1zM927 734h13v1h-13zM55 735h1v1h-1zM87 735h1v1h-1zM100 735h2v1h-2zM111 735h2v1h-2zM208 735h1v1h-1zM290 735h1v1h-1zM293 735h2v1h-2zM330 735h2v1h-2zM342 735h1v1h-1zM402 735h1v1h-1zM441 735h3v1h-3zM461 735h1v1h-1zM488 735h1v1h-1zM494 735h1v1h-1zM512 735h1v1h-1zM521 735h6v1h-6zM533 735h2v1h-2zM551 735h1v1h-1zM557 735h1v1h-1zM610 735h1v1h-1zM613 735h1v1h-1zM681 735h1v1h-1zM686 735h2v1h-2zM730 735h5v1h-5zM740 735h2v1h-2zM765 735h1v1h-1zM777 735h2v1h-2zM796 735h1v1h-1zM841 735h1v1h-1zM922 735h1v1h-1zM940 735h1v1h-1zM55 736h1v1h-1zM88 736h1v1h-1zM98 736h2v1h-2zM113 736h2v1h-2zM207 736h1v1h-1zM291 736h2v1h-2zM332 736h2v1h-2zM342 736h1v1h-1zM403 736h9v1h-9zM437 736h4v1h-4zM462 736h1v1h-1zM487 736h1v1h-1zM495 736h2v1h-2zM511 736h1v1h-1zM527 736h6v1h-6zM552 736h1v1h-1zM556 736h1v1h-1zM610 736h1v1h-1zM612 736h1v1h-1zM682 736h1v1h-1zM684 736h2v1h-2zM742 736h1v1h-1zM764 736h1v1h-1zM779 736h17v1h-17zM841 736h1v1h-1zM921 736h1v1h-1zM941 736h2v1h-2zM54 737h1v1h-1zM89 737h1v1h-1zM96 737h2v1h-2zM115 737h2v1h-2zM207 737h1v1h-1zM334 737h1v1h-1zM341 737h1v1h-1zM412 737h2v1h-2zM426 737h11v1h-11zM463 737h1v1h-1zM487 737h1v1h-1zM497 737h1v1h-1zM509 737h2v1h-2zM553 737h2v1h-2zM556 737h1v1h-1zM611 737h1v1h-1zM683 737h1v1h-1zM743 737h2v1h-2zM763 737h1v1h-1zM842 737h1v1h-1zM921 737h1v1h-1zM943 737h1v1h-1zM53 738h1v1h-1zM89 738h1v1h-1zM94 738h2v1h-2zM117 738h4v1h-4zM206 738h1v1h-1zM335 738h2v1h-2zM340 738h1v1h-1zM414 738h1v1h-1zM424 738h2v1h-2zM463 738h1v1h-1zM486 738h1v1h-1zM498 738h1v1h-1zM508 738h1v1h-1zM555 738h1v1h-1zM745 738h2v1h-2zM761 738h2v1h-2zM842 738h1v1h-1zM920 738h1v1h-1zM944 738h1v1h-1zM53 739h1v1h-1zM90 739h1v1h-1zM92 739h2v1h-2zM121 739h12v1h-12zM206 739h1v1h-1zM337 739h2v1h-2zM340 739h1v1h-1zM415 739h2v1h-2zM422 739h2v1h-2zM464 739h1v1h-1zM485 739h1v1h-1zM499 739h9v1h-9zM747 739h2v1h-2zM759 739h2v1h-2zM843 739h1v1h-1zM920 739h1v1h-1zM945 739h2v1h-2zM52 740h1v1h-1zM91 740h1v1h-1zM133 740h2v1h-2zM155 740h1v1h-1zM205 740h1v1h-1zM339 740h1v1h-1zM417 740h2v1h-2zM420 740h2v1h-2zM465 740h1v1h-1zM484 740h1v1h-1zM749 740h2v1h-2zM758 740h1v1h-1zM843 740h1v1h-1zM919 740h1v1h-1zM947 740h1v1h-1zM52 741h1v1h-1zM135 741h3v1h-3zM154 741h1v1h-1zM156 741h1v1h-1zM205 741h1v1h-1zM419 741h1v1h-1zM466 741h1v1h-1zM471 741h13v1h-13zM751 741h3v1h-3zM756 741h2v1h-2zM844 741h1v1h-1zM919 741h1v1h-1zM948 741h1v1h-1zM51 742h1v1h-1zM138 742h2v1h-2zM153 742h1v1h-1zM157 742h1v1h-1zM179 742h2v1h-2zM204 742h1v1h-1zM467 742h4v1h-4zM754 742h2v1h-2zM845 742h1v1h-1zM859 742h1v1h-1zM918 742h1v1h-1zM948 742h1v1h-1zM50 743h1v1h-1zM140 743h2v1h-2zM151 743h2v1h-2zM158 743h1v1h-1zM178 743h1v1h-1zM181 743h4v1h-4zM204 743h1v1h-1zM846 743h1v1h-1zM857 743h2v1h-2zM860 743h1v1h-1zM918 743h1v1h-1zM949 743h1v1h-1zM50 744h1v1h-1zM142 744h1v1h-1zM150 744h1v1h-1zM159 744h1v1h-1zM177 744h1v1h-1zM185 744h4v1h-4zM201 744h3v1h-3zM847 744h1v1h-1zM856 744h1v1h-1zM860 744h1v1h-1zM917 744h1v1h-1zM949 744h1v1h-1zM49 745h1v1h-1zM143 745h2v1h-2zM149 745h1v1h-1zM159 745h1v1h-1zM175 745h2v1h-2zM189 745h4v1h-4zM197 745h4v1h-4zM848 745h1v1h-1zM855 745h1v1h-1zM861 745h1v1h-1zM917 745h1v1h-1zM950 745h1v1h-1zM49 746h1v1h-1zM145 746h2v1h-2zM148 746h1v1h-1zM160 746h1v1h-1zM174 746h1v1h-1zM193 746h4v1h-4zM849 746h1v1h-1zM853 746h2v1h-2zM862 746h1v1h-1zM907 746h2v1h-2zM916 746h1v1h-1zM951 746h1v1h-1zM48 747h1v1h-1zM147 747h1v1h-1zM161 747h1v1h-1zM173 747h1v1h-1zM850 747h1v1h-1zM852 747h1v1h-1zM862 747h1v1h-1zM906 747h1v1h-1zM909 747h4v1h-4zM916 747h1v1h-1zM951 747h1v1h-1zM1091 747h1v1h-1zM48 748h1v1h-1zM162 748h1v1h-1zM172 748h1v1h-1zM851 748h1v1h-1zM863 748h1v1h-1zM906 748h1v1h-1zM913 748h3v1h-3zM952 748h1v1h-1zM1090 748h1v1h-1zM1092 748h1v1h-1zM47 749h1v1h-1zM163 749h9v1h-9zM864 749h1v1h-1zM905 749h1v1h-1zM953 749h1v1h-1zM1089 749h1v1h-1zM1093 749h1v1h-1zM46 750h1v1h-1zM864 750h1v1h-1zM904 750h1v1h-1zM953 750h1v1h-1zM1087 750h2v1h-2zM1094 750h1v1h-1zM46 751h1v1h-1zM865 751h1v1h-1zM904 751h1v1h-1zM954 751h1v1h-1zM1086 751h1v1h-1zM1095 751h2v1h-2zM45 752h1v1h-1zM866 752h1v1h-1zM903 752h1v1h-1zM954 752h1v1h-1zM1085 752h1v1h-1zM1097 752h1v1h-1zM45 753h1v1h-1zM866 753h1v1h-1zM902 753h1v1h-1zM955 753h1v1h-1zM1084 753h1v1h-1zM1098 753h1v1h-1zM44 754h1v1h-1zM867 754h1v1h-1zM902 754h1v1h-1zM956 754h1v1h-1zM1082 754h2v1h-2zM1099 754h10v1h-10zM44 755h1v1h-1zM868 755h1v1h-1zM901 755h1v1h-1zM957 755h1v1h-1zM1080 755h2v1h-2zM1109 755h4v1h-4zM41 756h3v1h-3zM869 756h2v1h-2zM900 756h1v1h-1zM958 756h1v1h-1zM970 756h3v1h-3zM1035 756h1v1h-1zM1067 756h2v1h-2zM1078 756h2v1h-2zM1113 756h2v1h-2zM37 757h4v1h-4zM871 757h1v1h-1zM900 757h1v1h-1zM959 757h2v1h-2zM968 757h2v1h-2zM973 757h4v1h-4zM1034 757h1v1h-1zM1036 757h2v1h-2zM1066 757h1v1h-1zM1069 757h4v1h-4zM1076 757h2v1h-2zM3 758h2v1h-2zM34 758h3v1h-3zM872 758h1v1h-1zM897 758h3v1h-3zM961 758h1v1h-1zM966 758h2v1h-2zM977 758h12v1h-12zM1033 758h1v1h-1zM1038 758h2v1h-2zM1065 758h1v1h-1zM1073 758h3v1h-3zM5 759h4v1h-4zM31 759h3v1h-3zM873 759h2v1h-2zM893 759h4v1h-4zM962 759h1v1h-1zM964 759h2v1h-2zM989 759h4v1h-4zM1032 759h1v1h-1zM1040 759h2v1h-2zM1064 759h1v1h-1zM9 760h4v1h-4zM29 760h2v1h-2zM875 760h18v1h-18zM963 760h1v1h-1zM993 760h3v1h-3zM1031 760h1v1h-1zM1042 760h3v1h-3zM1063 760h1v1h-1zM13 761h2v1h-2zM25 761h4v1h-4zM996 761h2v1h-2zM1031 761h1v1h-1zM1045 761h2v1h-2zM1062 761h1v1h-1zM15 762h3v1h-3zM21 762h4v1h-4zM998 762h1v1h-1zM1030 762h1v1h-1zM1047 762h3v1h-3zM1061 762h1v1h-1zM18 763h3v1h-3zM999 763h2v1h-2zM1029 763h1v1h-1zM1050 763h5v1h-5zM1060 763h1v1h-1zM1001 764h2v1h-2zM1028 764h1v1h-1zM1055 764h5v1h-5zM1003 765h4v1h-4zM1026 765h2v1h-2zM1007 766h6v1h-6zM1023 766h3v1h-3zM1013 767h4v1h-4zM1021 767h2v1h-2zM1017 768h4v1h-4z" fill="#1e90ff" shape-rendering="crispEdges"/>
</g>
<g shape-rendering="crispEdges" fill="#000">
<rect x="1419" y="673" width="2" height="1"/>
<rect x="1419" y="800" width="2" height="1"/>
</g>
<text x="1421.5" y="682" font-size="9.5" fill="#000" font-weight="normal" text-anchor="start" textLength="16" lengthAdjust="spacingAndGlyphs" stroke="#000" stroke-width="0.2">100</text>
<text x="1420.5" y="715" font-size="9.5" fill="#000" font-weight="normal" text-anchor="start" textLength="11" lengthAdjust="spacingAndGlyphs" stroke="#000" stroke-width="0.2">70</text>
<text x="1420.5" y="766" font-size="9.5" fill="#000" font-weight="normal" text-anchor="start" textLength="11" lengthAdjust="spacingAndGlyphs" stroke="#000" stroke-width="0.2">30</text>
<text x="1421.5" y="798" font-size="9.5" fill="#000" font-weight="normal" text-anchor="start" textLength="5.6" lengthAdjust="spacingAndGlyphs" stroke="#000" stroke-width="0.2">0</text>
<text x="7" y="684" font-size="10" fill="#000" font-weight="normal" text-anchor="start" textLength="68" lengthAdjust="spacingAndGlyphs" stroke="#000" stroke-width="0.15">RSI(14) 34.4058</text>
<rect x="1420" y="533" width="38" height="11" fill="#000" shape-rendering="crispEdges"/>
<text x="1424.5" y="542" font-size="9.5" fill="#fff" font-weight="normal" text-anchor="start" textLength="32.5" lengthAdjust="spacingAndGlyphs">1.30502</text>
<text x="2" y="814" font-size="10.3" fill="#000" font-weight="normal" text-anchor="start" textLength="50.5" lengthAdjust="spacingAndGlyphs" stroke="#000" stroke-width="0.2">30 Jan 2019</text>
<text x="66" y="814" font-size="10.3" fill="#000" font-weight="normal" text-anchor="start" textLength="47.5" lengthAdjust="spacingAndGlyphs" stroke="#000" stroke-width="0.2">8 Feb 2019</text>
<text x="130" y="814" font-size="10.3" fill="#000" font-weight="normal" text-anchor="start" textLength="53.3" lengthAdjust="spacingAndGlyphs" stroke="#000" stroke-width="0.2">18 Feb 2019</text>
<text x="194" y="814" font-size="10.3" fill="#000" font-weight="normal" text-anchor="start" textLength="53.3" lengthAdjust="spacingAndGlyphs" stroke="#000" stroke-width="0.2">27 Feb 2019</text>
<text x="258" y="814" font-size="10.3" fill="#000" font-weight="normal" text-anchor="start" textLength="48.1" lengthAdjust="spacingAndGlyphs" stroke="#000" stroke-width="0.2">8 Mar 2019</text>
<text x="322" y="814" font-size="10.3" fill="#000" font-weight="normal" text-anchor="start" textLength="53.3" lengthAdjust="spacingAndGlyphs" stroke="#000" stroke-width="0.2">18 Mar 2019</text>
<text x="386" y="814" font-size="10.3" fill="#000" font-weight="normal" text-anchor="start" textLength="53.3" lengthAdjust="spacingAndGlyphs" stroke="#000" stroke-width="0.2">27 Mar 2019</text>
<text x="450" y="814" font-size="10.3" fill="#000" font-weight="normal" text-anchor="start" textLength="46.0" lengthAdjust="spacingAndGlyphs" stroke="#000" stroke-width="0.2">5 Apr 2019</text>
<text x="514" y="814" font-size="10.3" fill="#000" font-weight="normal" text-anchor="start" textLength="51.2" lengthAdjust="spacingAndGlyphs" stroke="#000" stroke-width="0.2">15 Apr 2019</text>
<text x="578" y="814" font-size="10.3" fill="#000" font-weight="normal" text-anchor="start" textLength="51.2" lengthAdjust="spacingAndGlyphs" stroke="#000" stroke-width="0.2">25 Apr 2019</text>
<text x="642" y="814" font-size="10.3" fill="#000" font-weight="normal" text-anchor="start" textLength="49.6" lengthAdjust="spacingAndGlyphs" stroke="#000" stroke-width="0.2">5 May 2019</text>
<text x="706" y="814" font-size="10.3" fill="#000" font-weight="normal" text-anchor="start" textLength="54.9" lengthAdjust="spacingAndGlyphs" stroke="#000" stroke-width="0.2">14 May 2019</text>
<text x="770" y="814" font-size="10.3" fill="#000" font-weight="normal" text-anchor="start" textLength="54.9" lengthAdjust="spacingAndGlyphs" stroke="#000" stroke-width="0.2">23 May 2019</text>
<text x="834" y="814" font-size="10.3" fill="#000" font-weight="normal" text-anchor="start" textLength="45" lengthAdjust="spacingAndGlyphs" stroke="#000" stroke-width="0.2">2 Jun 2019</text>
<text x="898" y="814" font-size="10.3" fill="#000" font-weight="normal" text-anchor="start" textLength="50.5" lengthAdjust="spacingAndGlyphs" stroke="#000" stroke-width="0.2">11 Jun 2019</text>
<text x="962" y="814" font-size="10.3" fill="#000" font-weight="normal" text-anchor="start" textLength="50.5" lengthAdjust="spacingAndGlyphs" stroke="#000" stroke-width="0.2">20 Jun 2019</text>
<text x="1026" y="814" font-size="10.3" fill="#000" font-weight="normal" text-anchor="start" textLength="50.5" lengthAdjust="spacingAndGlyphs" stroke="#000" stroke-width="0.2">30 Jun 2019</text>
<text x="1090" y="814" font-size="10.3" fill="#000" font-weight="normal" text-anchor="start" textLength="42.5" lengthAdjust="spacingAndGlyphs" stroke="#000" stroke-width="0.2">9 Jul 2019</text>
<g shape-rendering="crispEdges">
<rect x="0" y="822" width="1458" height="1" fill="#e3e3e3"/>
<rect x="0" y="824" width="1458" height="1" fill="#000"/>
<rect x="0" y="826" width="1458" height="17" fill="#f0f0f0"/>
<rect x="0" y="845" width="1458" height="2" fill="#f0f0f0"/>
<rect x="328" y="824" width="108" height="19" fill="#ffffff"/>
<rect x="328" y="824" width="1" height="19" fill="#000"/>
<rect x="435" y="824" width="1" height="19" fill="#000"/>
<rect x="328" y="842" width="108" height="1" fill="#000"/>
<rect x="112" y="828" width="1" height="13" fill="#808080"/>
<rect x="220" y="828" width="1" height="13" fill="#808080"/>
<rect x="547" y="828" width="1" height="13" fill="#808080"/>
<rect x="668" y="828" width="1" height="13" fill="#808080"/>
<rect x="764" y="828" width="1" height="13" fill="#808080"/>
<rect x="860" y="828" width="1" height="13" fill="#808080"/>
<rect x="940" y="828" width="1" height="13" fill="#808080"/>
</g>
<text x="15.6" y="839" font-size="12" fill="#6d6d6d" font-weight="normal" text-anchor="start" textLength="84.3" lengthAdjust="spacingAndGlyphs">EURUSD-,Daily</text>
<text x="122.6" y="839" font-size="12" fill="#6d6d6d" font-weight="normal" text-anchor="start" textLength="86.1" lengthAdjust="spacingAndGlyphs">AUDUSD-,Daily</text>
<text x="232" y="839" font-size="12" fill="#6d6d6d" font-weight="normal" text-anchor="start" textLength="84" lengthAdjust="spacingAndGlyphs">USDCHF-,Daily</text>
<text x="339" y="839" font-size="12" fill="#000" font-weight="normal" text-anchor="start" textLength="85.7" lengthAdjust="spacingAndGlyphs">USDCAD-,Daily</text>
<text x="447.8" y="839" font-size="12" fill="#6d6d6d" font-weight="normal" text-anchor="start" textLength="88.1" lengthAdjust="spacingAndGlyphs">USDCNH-,Daily</text>
<text x="559.1" y="839" font-size="12" fill="#6d6d6d" font-weight="normal" text-anchor="start" textLength="96.6" lengthAdjust="spacingAndGlyphs">EURCHF-,Weekly</text>
<text x="678.9" y="839" font-size="12" fill="#6d6d6d" font-weight="normal" text-anchor="start" textLength="73.8" lengthAdjust="spacingAndGlyphs">XAUUSD-,H1</text>
<text x="774.9" y="839" font-size="12" fill="#6d6d6d" font-weight="normal" text-anchor="start" textLength="72.4" lengthAdjust="spacingAndGlyphs">GBPUSD-,H1</text>
<text x="871.5" y="839" font-size="12" fill="#6d6d6d" font-weight="normal" text-anchor="start" textLength="56.0" lengthAdjust="spacingAndGlyphs">UKOil-,H1</text>
<polygon points="1433.5,833 1437.5,829 1437.5,836.5" fill="#8c8c8c"/>
<polygon points="1453,829 1457,833 1453,836.5" fill="#8c8c8c"/>
<polygon points="6,36 13,36 9.5,32" fill="#000"/>
<text x="18.5" y="37" font-size="11" fill="#000" font-weight="normal" text-anchor="start" textLength="68" lengthAdjust="spacingAndGlyphs" stroke="#000" stroke-width="0.15">USDCAD-,Daily</text>
<text x="93.3" y="37" font-size="11" fill="#000" font-weight="normal" text-anchor="start" textLength="140.4" lengthAdjust="spacingAndGlyphs" stroke="#000" stroke-width="0.15">1.30684 1.30690 1.30484 1.30502</text>
<defs><linearGradient id="btn" x1="0" y1="0" x2="0" y2="1"><stop offset="0" stop-color="#5a5aff"/><stop offset="1" stop-color="#3a3aee"/></linearGradient><linearGradient id="big" x1="0" y1="0" x2="0" y2="1"><stop offset="0" stop-color="#3636e6"/><stop offset="1" stop-color="#0000b8"/></linearGradient><linearGradient id="bigU" gradientUnits="userSpaceOnUse" x1="0" y1="70" x2="0" y2="108"><stop offset="0" stop-color="#3636e6"/><stop offset="1" stop-color="#0000b8"/></linearGradient><linearGradient id="spin" x1="0" y1="0" x2="0" y2="1"><stop offset="0" stop-color="#f2f2f2"/><stop offset="0.5" stop-color="#e6e6e6"/><stop offset="0.5" stop-color="#d6d6d6"/><stop offset="1" stop-color="#d0d0d0"/></linearGradient></defs>
<g shape-rendering="crispEdges">
<rect x="6" y="45" width="52" height="25" fill="#0000a8"/>
<rect x="6" y="69" width="109" height="40" fill="#0000a8"/>
<rect x="7" y="46" width="50" height="23" fill="url(#btn)"/>
<rect x="7" y="69" width="50" height="1" fill="#3636e6"/>
<rect x="7" y="70" width="107" height="38" fill="url(#big)"/>
<rect x="10" y="68" width="45" height="1" fill="#12129a"/>
<rect x="10" y="69" width="45" height="1" fill="#7c7cff"/>
<rect x="173" y="45" width="52" height="25" fill="#0000a8"/>
<rect x="117" y="69" width="108" height="40" fill="#0000a8"/>
<rect x="174" y="46" width="50" height="23" fill="url(#btn)"/>
<rect x="174" y="69" width="50" height="1" fill="#3636e6"/>
<rect x="118" y="70" width="106" height="38" fill="url(#big)"/>
<rect x="177" y="68" width="45" height="1" fill="#12129a"/>
<rect x="177" y="69" width="45" height="1" fill="#7c7cff"/>
<rect x="60" y="45" width="111" height="22" fill="#a9acb0"/>
<rect x="61" y="46" width="109" height="20" fill="#ffffff"/>
<rect x="81" y="46" width="1" height="20" fill="#a9acb0"/>
<rect x="149" y="46" width="1" height="20" fill="#a9acb0"/>
<rect x="62" y="47" width="18" height="6" fill="#efefef"/>
<rect x="62" y="53" width="18" height="12" fill="#d5d5d5"/>
<rect x="151" y="47" width="18" height="6" fill="#efefef"/>
<rect x="151" y="53" width="18" height="12" fill="#d5d5d5"/>
</g>
<polygon points="67.5,54 73.5,54 70.5,57.5" fill="#4f68c0"/>
<polygon points="156.5,57.5 162.5,57.5 159.5,54" fill="#4f68c0"/>
<text x="18.6" y="61" font-size="12" fill="#fff" font-weight="normal" text-anchor="start" textLength="25.4" lengthAdjust="spacingAndGlyphs">SELL</text>
<text x="186.9" y="61" font-size="12" fill="#fff" font-weight="normal" text-anchor="start" textLength="23" lengthAdjust="spacingAndGlyphs">BUY</text>
<text x="145.8" y="60.5" font-size="12.5" fill="#000" font-weight="normal" text-anchor="end">1.00</text>
<text x="26.6" y="100" font-size="12" fill="#fff" font-weight="bold" text-anchor="start" textLength="23" lengthAdjust="spacingAndGlyphs">1.30</text>
<text x="54.7" y="100.4" font-size="35.5" fill="#fff" font-weight="normal" text-anchor="start" textLength="35.2" lengthAdjust="spacingAndGlyphs" stroke="url(#bigU)" stroke-width="0.9">50</text>
<text x="93" y="84" font-size="12" fill="#fff" font-weight="bold" text-anchor="start" textLength="7" lengthAdjust="spacingAndGlyphs">2</text>
<text x="136.6" y="100" font-size="12" fill="#fff" font-weight="bold" text-anchor="start" textLength="23" lengthAdjust="spacingAndGlyphs">1.30</text>
<text x="165.3" y="100.4" font-size="35.5" fill="#fff" font-weight="normal" text-anchor="start" textLength="34.6" lengthAdjust="spacingAndGlyphs" stroke="url(#bigU)" stroke-width="0.9">52</text>
<text x="204.3" y="84" font-size="12" fill="#fff" font-weight="bold" text-anchor="start" textLength="7" lengthAdjust="spacingAndGlyphs">2</text>
</svg></body></html>
